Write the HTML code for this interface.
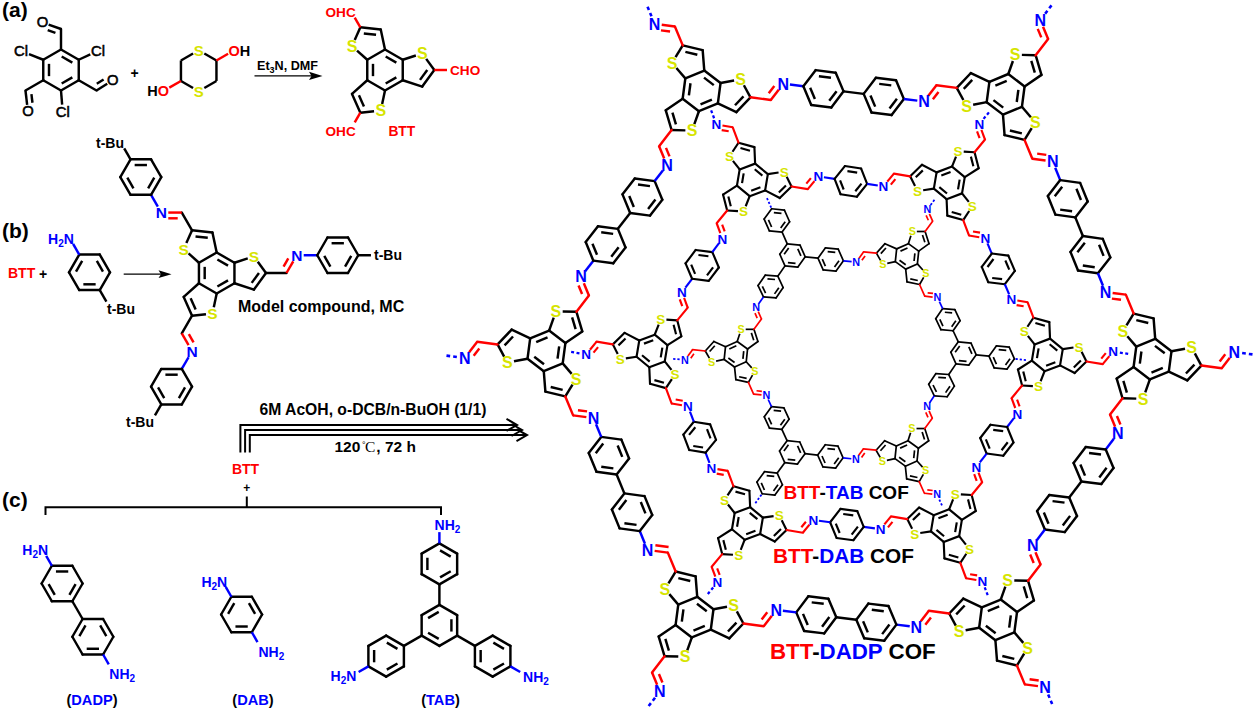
<!DOCTYPE html>
<html><head><meta charset="utf-8"><style>
html,body{margin:0;padding:0;background:#fff;width:1256px;height:709px;overflow:hidden}
svg{display:block}
</style></head><body>
<svg width="1256" height="709" viewBox="0 0 1256 709">
<rect width="1256" height="709" fill="#fff"/>
<text x="2" y="17.36" fill="#000" font-size="21" text-anchor="start" font-weight="bold" font-family="Liberation Sans">(a)</text>
<line x1="61" y1="49.5" x2="78.75" y2="59.75" stroke="#000" stroke-width="2.45" stroke-linecap="round"/>
<line x1="78.75" y1="59.75" x2="78.75" y2="80.25" stroke="#000" stroke-width="2.45" stroke-linecap="round"/>
<line x1="78.75" y1="80.25" x2="61" y2="90.5" stroke="#000" stroke-width="2.45" stroke-linecap="round"/>
<line x1="61" y1="90.5" x2="43.25" y2="80.25" stroke="#000" stroke-width="2.45" stroke-linecap="round"/>
<line x1="43.25" y1="80.25" x2="43.25" y2="59.75" stroke="#000" stroke-width="2.45" stroke-linecap="round"/>
<line x1="43.25" y1="59.75" x2="61" y2="49.5" stroke="#000" stroke-width="2.45" stroke-linecap="round"/>
<line x1="61.68" y1="56.52" x2="72.33" y2="62.67" stroke="#000" stroke-width="2.45" stroke-linecap="butt"/>
<line x1="72.33" y1="77.33" x2="61.68" y2="83.48" stroke="#000" stroke-width="2.45" stroke-linecap="butt"/>
<line x1="48.99" y1="76.15" x2="48.99" y2="63.85" stroke="#000" stroke-width="2.45" stroke-linecap="butt"/>
<line x1="61" y1="49.5" x2="61" y2="29" stroke="#000" stroke-width="2.45" stroke-linecap="round"/>
<line x1="61" y1="29" x2="48.62" y2="24.58" stroke="#000" stroke-width="2.45" stroke-linecap="butt"/>
<line x1="55.45" y1="32.86" x2="47.68" y2="30.09" stroke="#000" stroke-width="2.45" stroke-linecap="butt"/>
<text x="42.5" y="27.28" fill="#000" font-size="14.8" text-anchor="middle" font-weight="normal" font-family="Liberation Sans" stroke="#000" stroke-width="0.55">O</text>
<line x1="78.75" y1="59.75" x2="90.28" y2="54.45" stroke="#000" stroke-width="2.45" stroke-linecap="butt"/>
<text x="98" y="55.78" fill="#000" font-size="14.8" text-anchor="middle" font-weight="normal" font-family="Liberation Sans" stroke="#000" stroke-width="0.55">Cl</text>
<line x1="78.75" y1="80.25" x2="96.51" y2="90.5" stroke="#000" stroke-width="2.45" stroke-linecap="round"/>
<line x1="96.51" y1="90.5" x2="107.22" y2="83.69" stroke="#000" stroke-width="2.45" stroke-linecap="butt"/>
<line x1="96.79" y1="83.8" x2="103.59" y2="79.47" stroke="#000" stroke-width="2.45" stroke-linecap="butt"/>
<text x="112.7" y="85.08" fill="#000" font-size="14.8" text-anchor="middle" font-weight="normal" font-family="Liberation Sans" stroke="#000" stroke-width="0.55">O</text>
<line x1="61" y1="90.5" x2="62.14" y2="104.72" stroke="#000" stroke-width="2.45" stroke-linecap="butt"/>
<text x="62.7" y="116.58" fill="#000" font-size="14.8" text-anchor="middle" font-weight="normal" font-family="Liberation Sans" stroke="#000" stroke-width="0.55">Cl</text>
<line x1="43.25" y1="80.25" x2="25.49" y2="90.5" stroke="#000" stroke-width="2.45" stroke-linecap="round"/>
<line x1="25.49" y1="90.5" x2="27.15" y2="104.84" stroke="#000" stroke-width="2.45" stroke-linecap="butt"/>
<line x1="31.44" y1="94.03" x2="32.45" y2="102.76" stroke="#000" stroke-width="2.45" stroke-linecap="butt"/>
<text x="27.9" y="116.18" fill="#000" font-size="14.8" text-anchor="middle" font-weight="normal" font-family="Liberation Sans" stroke="#000" stroke-width="0.55">O</text>
<line x1="43.25" y1="59.75" x2="28.99" y2="54.05" stroke="#000" stroke-width="2.45" stroke-linecap="butt"/>
<text x="21.1" y="55.78" fill="#000" font-size="14.8" text-anchor="middle" font-weight="normal" font-family="Liberation Sans" stroke="#000" stroke-width="0.55">Cl</text>
<text x="134.5" y="77.54" fill="#000" font-size="14" text-anchor="middle" font-weight="bold" font-family="Liberation Sans">+</text>
<line x1="204.33" y1="53.45" x2="216.45" y2="60.45" stroke="#000" stroke-width="2.45" stroke-linecap="butt"/>
<line x1="216.45" y1="60.45" x2="216.45" y2="80.95" stroke="#000" stroke-width="2.45" stroke-linecap="butt"/>
<line x1="216.45" y1="80.95" x2="204.33" y2="87.95" stroke="#000" stroke-width="2.45" stroke-linecap="butt"/>
<line x1="193.07" y1="87.95" x2="180.95" y2="80.95" stroke="#000" stroke-width="2.45" stroke-linecap="butt"/>
<line x1="180.95" y1="80.95" x2="180.95" y2="60.45" stroke="#000" stroke-width="2.45" stroke-linecap="butt"/>
<line x1="180.95" y1="60.45" x2="193.07" y2="53.45" stroke="#000" stroke-width="2.45" stroke-linecap="butt"/>
<text x="198.7" y="55.6" fill="#d6e400" font-size="15" text-anchor="middle" font-weight="bold" font-family="Liberation Sans">S</text>
<text x="198.7" y="96.6" fill="#d6e400" font-size="15" text-anchor="middle" font-weight="bold" font-family="Liberation Sans">S</text>
<line x1="216.45" y1="60.45" x2="228.1" y2="53.73" stroke="#f00" stroke-width="2.45" stroke-linecap="butt"/>
<text x="228.43" y="55.95" fill="#000" font-size="14.5" text-anchor="start" font-weight="bold" font-family="Liberation Sans"><tspan fill="#f00">O</tspan>H</text>
<line x1="180.95" y1="80.95" x2="169.3" y2="87.67" stroke="#f00" stroke-width="2.45" stroke-linecap="butt"/>
<text x="168.97" y="95.89" fill="#000" font-size="14.5" text-anchor="end" font-weight="bold" font-family="Liberation Sans">H<tspan fill="#f00">O</tspan></text>
<line x1="254.5" y1="75.9" x2="312" y2="75.9" stroke="#000" stroke-width="1.3" stroke-linecap="butt"/>
<polygon points="322.5,75.9 309,71.8 311.5,75.9 309,80" fill="#000"/>
<text x="257" y="70.04" fill="#000" font-size="12.6" text-anchor="start" font-weight="bold" font-family="Liberation Sans">Et<tspan font-size="9" dy="3">3</tspan><tspan dy="-3">N, DMF</tspan></text>
<line x1="367.25" y1="59.75" x2="357.01" y2="50.54" stroke="#000" stroke-width="2.45" stroke-linecap="butt"/>
<line x1="354.75" y1="39.9" x2="360.35" y2="27.31" stroke="#000" stroke-width="2.45" stroke-linecap="butt"/>
<line x1="360.35" y1="27.31" x2="380.74" y2="29.45" stroke="#000" stroke-width="2.45" stroke-linecap="round"/>
<line x1="363.83" y1="33.45" x2="376.06" y2="34.73" stroke="#000" stroke-width="2.45" stroke-linecap="butt"/>
<line x1="380.74" y1="29.45" x2="385" y2="49.5" stroke="#000" stroke-width="2.45" stroke-linecap="round"/>
<text x="352.02" y="51.8" fill="#d6e400" font-size="16" text-anchor="middle" font-weight="bold" font-family="Liberation Sans">S</text>
<line x1="402.75" y1="59.75" x2="415.85" y2="55.49" stroke="#000" stroke-width="2.45" stroke-linecap="butt"/>
<line x1="426.19" y1="58.85" x2="434.29" y2="70" stroke="#000" stroke-width="2.45" stroke-linecap="butt"/>
<line x1="434.29" y1="70" x2="422.24" y2="86.59" stroke="#000" stroke-width="2.45" stroke-linecap="round"/>
<line x1="427.24" y1="69.94" x2="420.01" y2="79.89" stroke="#000" stroke-width="2.45" stroke-linecap="butt"/>
<line x1="422.24" y1="86.59" x2="402.75" y2="80.25" stroke="#000" stroke-width="2.45" stroke-linecap="round"/>
<text x="422.24" y="59.17" fill="#d6e400" font-size="16" text-anchor="middle" font-weight="bold" font-family="Liberation Sans">S</text>
<line x1="385" y1="90.5" x2="382.14" y2="103.97" stroke="#000" stroke-width="2.45" stroke-linecap="butt"/>
<line x1="374.06" y1="111.25" x2="360.35" y2="112.69" stroke="#000" stroke-width="2.45" stroke-linecap="butt"/>
<line x1="360.35" y1="112.69" x2="352.02" y2="93.96" stroke="#000" stroke-width="2.45" stroke-linecap="round"/>
<line x1="363.93" y1="106.61" x2="358.93" y2="95.37" stroke="#000" stroke-width="2.45" stroke-linecap="butt"/>
<line x1="352.02" y1="93.96" x2="367.25" y2="80.25" stroke="#000" stroke-width="2.45" stroke-linecap="round"/>
<text x="380.74" y="116.31" fill="#d6e400" font-size="16" text-anchor="middle" font-weight="bold" font-family="Liberation Sans">S</text>
<line x1="385" y1="49.5" x2="402.75" y2="59.75" stroke="#000" stroke-width="2.45" stroke-linecap="round"/>
<line x1="402.75" y1="59.75" x2="402.75" y2="80.25" stroke="#000" stroke-width="2.45" stroke-linecap="round"/>
<line x1="402.75" y1="80.25" x2="385" y2="90.5" stroke="#000" stroke-width="2.45" stroke-linecap="round"/>
<line x1="385" y1="90.5" x2="367.25" y2="80.25" stroke="#000" stroke-width="2.45" stroke-linecap="round"/>
<line x1="367.25" y1="80.25" x2="367.25" y2="59.75" stroke="#000" stroke-width="2.45" stroke-linecap="round"/>
<line x1="367.25" y1="59.75" x2="385" y2="49.5" stroke="#000" stroke-width="2.45" stroke-linecap="round"/>
<line x1="385.68" y1="56.52" x2="396.33" y2="62.67" stroke="#000" stroke-width="2.45" stroke-linecap="butt"/>
<line x1="396.33" y1="77.33" x2="385.68" y2="83.48" stroke="#000" stroke-width="2.45" stroke-linecap="butt"/>
<line x1="372.99" y1="76.15" x2="372.99" y2="63.85" stroke="#000" stroke-width="2.45" stroke-linecap="butt"/>
<line x1="360.35" y1="27.31" x2="354.72" y2="17.55" stroke="#f00" stroke-width="2.45" stroke-linecap="butt"/>
<text x="340.6" y="16.9" fill="#f00" font-size="13.6" text-anchor="middle" font-weight="bold" font-family="Liberation Sans">OHC</text>
<line x1="434.29" y1="70" x2="447" y2="70" stroke="#f00" stroke-width="2.45" stroke-linecap="butt"/>
<text x="450" y="75.4" fill="#f00" font-size="13.6" text-anchor="start" font-weight="bold" font-family="Liberation Sans">CHO</text>
<line x1="360.35" y1="112.69" x2="354.72" y2="122.45" stroke="#f00" stroke-width="2.45" stroke-linecap="butt"/>
<text x="340.6" y="136.3" fill="#f00" font-size="13.6" text-anchor="middle" font-weight="bold" font-family="Liberation Sans">OHC</text>
<text x="401.8" y="136.37" fill="#f00" font-size="13.8" text-anchor="middle" font-weight="bold" font-family="Liberation Sans">BTT</text>
<text x="2" y="238.36" fill="#000" font-size="21" text-anchor="start" font-weight="bold" font-family="Liberation Sans">(b)</text>
<text x="8" y="278.04" fill="#f00" font-size="14" text-anchor="start" font-weight="bold" font-family="Liberation Sans">BTT</text>
<text x="43" y="278.54" fill="#000" font-size="14" text-anchor="middle" font-weight="bold" font-family="Liberation Sans">+</text>
<line x1="110" y1="272.3" x2="99.75" y2="290.05" stroke="#000" stroke-width="2.45" stroke-linecap="round"/>
<line x1="99.75" y1="290.05" x2="79.25" y2="290.05" stroke="#000" stroke-width="2.45" stroke-linecap="round"/>
<line x1="79.25" y1="290.05" x2="69" y2="272.3" stroke="#000" stroke-width="2.45" stroke-linecap="round"/>
<line x1="69" y1="272.3" x2="79.25" y2="254.55" stroke="#000" stroke-width="2.45" stroke-linecap="round"/>
<line x1="79.25" y1="254.55" x2="99.75" y2="254.55" stroke="#000" stroke-width="2.45" stroke-linecap="round"/>
<line x1="99.75" y1="254.55" x2="110" y2="272.3" stroke="#000" stroke-width="2.45" stroke-linecap="round"/>
<line x1="95.65" y1="284.31" x2="83.35" y2="284.31" stroke="#000" stroke-width="2.45" stroke-linecap="butt"/>
<line x1="76.02" y1="271.62" x2="82.17" y2="260.97" stroke="#000" stroke-width="2.45" stroke-linecap="butt"/>
<line x1="96.83" y1="260.97" x2="102.98" y2="271.62" stroke="#000" stroke-width="2.45" stroke-linecap="butt"/>
<line x1="79.25" y1="254.55" x2="73.1" y2="243.89" stroke="#00f" stroke-width="2.45" stroke-linecap="butt"/>
<text x="61" y="243.54" fill="#00f" font-size="14" text-anchor="middle" font-weight="bold" font-family="Liberation Sans">H<tspan font-size="10" dy="3">2</tspan><tspan dy="-3">N</tspan></text>
<line x1="99.75" y1="290.05" x2="106.41" y2="301.59" stroke="#000" stroke-width="2.45" stroke-linecap="butt"/>
<text x="107" y="314.04" fill="#000" font-size="14" text-anchor="start" font-weight="bold" font-family="Liberation Sans">t-Bu</text>
<line x1="123.7" y1="274.2" x2="163" y2="274.2" stroke="#000" stroke-width="1.3" stroke-linecap="butt"/>
<polygon points="171.5,274.2 158.5,270.3 161,274.2 158.5,278.1" fill="#000"/>
<line x1="198.95" y1="262.75" x2="188.55" y2="253.4" stroke="#000" stroke-width="2.45" stroke-linecap="butt"/>
<line x1="186.36" y1="243.09" x2="192.05" y2="230.31" stroke="#000" stroke-width="2.45" stroke-linecap="butt"/>
<line x1="192.05" y1="230.31" x2="212.44" y2="232.45" stroke="#000" stroke-width="2.45" stroke-linecap="round"/>
<line x1="195.53" y1="236.45" x2="207.76" y2="237.73" stroke="#000" stroke-width="2.45" stroke-linecap="butt"/>
<line x1="212.44" y1="232.45" x2="216.7" y2="252.5" stroke="#000" stroke-width="2.45" stroke-linecap="round"/>
<text x="183.72" y="254.62" fill="#d6e400" font-size="15.5" text-anchor="middle" font-weight="bold" font-family="Liberation Sans">S</text>
<line x1="234.45" y1="262.75" x2="247.75" y2="258.43" stroke="#000" stroke-width="2.45" stroke-linecap="butt"/>
<line x1="257.77" y1="261.68" x2="265.99" y2="273" stroke="#000" stroke-width="2.45" stroke-linecap="butt"/>
<line x1="265.99" y1="273" x2="253.94" y2="289.59" stroke="#000" stroke-width="2.45" stroke-linecap="round"/>
<line x1="258.94" y1="272.94" x2="251.71" y2="282.89" stroke="#000" stroke-width="2.45" stroke-linecap="butt"/>
<line x1="253.94" y1="289.59" x2="234.45" y2="283.25" stroke="#000" stroke-width="2.45" stroke-linecap="round"/>
<text x="253.94" y="261.99" fill="#d6e400" font-size="15.5" text-anchor="middle" font-weight="bold" font-family="Liberation Sans">S</text>
<line x1="216.7" y1="293.5" x2="213.8" y2="307.18" stroke="#000" stroke-width="2.45" stroke-linecap="butt"/>
<line x1="205.97" y1="314.23" x2="192.05" y2="315.69" stroke="#000" stroke-width="2.45" stroke-linecap="butt"/>
<line x1="192.05" y1="315.69" x2="183.72" y2="296.96" stroke="#000" stroke-width="2.45" stroke-linecap="round"/>
<line x1="195.63" y1="309.61" x2="190.63" y2="298.37" stroke="#000" stroke-width="2.45" stroke-linecap="butt"/>
<line x1="183.72" y1="296.96" x2="198.95" y2="283.25" stroke="#000" stroke-width="2.45" stroke-linecap="round"/>
<text x="212.44" y="319.13" fill="#d6e400" font-size="15.5" text-anchor="middle" font-weight="bold" font-family="Liberation Sans">S</text>
<line x1="216.7" y1="252.5" x2="234.45" y2="262.75" stroke="#000" stroke-width="2.45" stroke-linecap="round"/>
<line x1="234.45" y1="262.75" x2="234.45" y2="283.25" stroke="#000" stroke-width="2.45" stroke-linecap="round"/>
<line x1="234.45" y1="283.25" x2="216.7" y2="293.5" stroke="#000" stroke-width="2.45" stroke-linecap="round"/>
<line x1="216.7" y1="293.5" x2="198.95" y2="283.25" stroke="#000" stroke-width="2.45" stroke-linecap="round"/>
<line x1="198.95" y1="283.25" x2="198.95" y2="262.75" stroke="#000" stroke-width="2.45" stroke-linecap="round"/>
<line x1="198.95" y1="262.75" x2="216.7" y2="252.5" stroke="#000" stroke-width="2.45" stroke-linecap="round"/>
<line x1="217.38" y1="259.52" x2="228.03" y2="265.67" stroke="#000" stroke-width="2.45" stroke-linecap="butt"/>
<line x1="228.03" y1="280.33" x2="217.38" y2="286.48" stroke="#000" stroke-width="2.45" stroke-linecap="butt"/>
<line x1="204.69" y1="279.15" x2="204.69" y2="266.85" stroke="#000" stroke-width="2.45" stroke-linecap="butt"/>
<line x1="192.05" y1="230.31" x2="181.8" y2="212.56" stroke="#000" stroke-width="2.45" stroke-linecap="round"/>
<line x1="181.8" y1="212.56" x2="168.28" y2="212.56" stroke="#f00" stroke-width="2.45" stroke-linecap="butt"/>
<line x1="177.7" y1="218.3" x2="168.28" y2="218.3" stroke="#f00" stroke-width="2.45" stroke-linecap="butt"/>
<text x="161.3" y="218.14" fill="#00f" font-size="15.5" text-anchor="middle" font-weight="bold" font-family="Liberation Sans">N</text>
<line x1="157.82" y1="206.52" x2="151.05" y2="194.8" stroke="#00f" stroke-width="2.45" stroke-linecap="butt"/>
<line x1="151.05" y1="194.8" x2="130.55" y2="194.8" stroke="#000" stroke-width="2.45" stroke-linecap="round"/>
<line x1="130.55" y1="194.8" x2="120.3" y2="177.05" stroke="#000" stroke-width="2.45" stroke-linecap="round"/>
<line x1="120.3" y1="177.05" x2="130.55" y2="159.3" stroke="#000" stroke-width="2.45" stroke-linecap="round"/>
<line x1="130.55" y1="159.3" x2="151.05" y2="159.3" stroke="#000" stroke-width="2.45" stroke-linecap="round"/>
<line x1="151.05" y1="159.3" x2="161.3" y2="177.05" stroke="#000" stroke-width="2.45" stroke-linecap="round"/>
<line x1="161.3" y1="177.05" x2="151.05" y2="194.8" stroke="#000" stroke-width="2.45" stroke-linecap="round"/>
<line x1="133.47" y1="188.38" x2="127.32" y2="177.73" stroke="#000" stroke-width="2.45" stroke-linecap="butt"/>
<line x1="134.65" y1="165.04" x2="146.95" y2="165.04" stroke="#000" stroke-width="2.45" stroke-linecap="butt"/>
<line x1="154.28" y1="177.73" x2="148.13" y2="188.38" stroke="#000" stroke-width="2.45" stroke-linecap="butt"/>
<line x1="130.55" y1="159.3" x2="124.2" y2="148.29" stroke="#000" stroke-width="2.45" stroke-linecap="butt"/>
<line x1="265.99" y1="273" x2="286.49" y2="273" stroke="#000" stroke-width="2.45" stroke-linecap="round"/>
<line x1="286.49" y1="273" x2="293.25" y2="261.29" stroke="#f00" stroke-width="2.45" stroke-linecap="butt"/>
<line x1="283.57" y1="266.58" x2="288.28" y2="258.42" stroke="#f00" stroke-width="2.45" stroke-linecap="butt"/>
<text x="296.74" y="260.83" fill="#00f" font-size="15.5" text-anchor="middle" font-weight="bold" font-family="Liberation Sans">N</text>
<line x1="303.72" y1="255.25" x2="317.24" y2="255.25" stroke="#00f" stroke-width="2.45" stroke-linecap="butt"/>
<line x1="317.24" y1="255.25" x2="327.49" y2="237.49" stroke="#000" stroke-width="2.45" stroke-linecap="round"/>
<line x1="327.49" y1="237.49" x2="347.99" y2="237.49" stroke="#000" stroke-width="2.45" stroke-linecap="round"/>
<line x1="347.99" y1="237.49" x2="358.24" y2="255.25" stroke="#000" stroke-width="2.45" stroke-linecap="round"/>
<line x1="358.24" y1="255.25" x2="347.99" y2="273" stroke="#000" stroke-width="2.45" stroke-linecap="round"/>
<line x1="347.99" y1="273" x2="327.49" y2="273" stroke="#000" stroke-width="2.45" stroke-linecap="round"/>
<line x1="327.49" y1="273" x2="317.24" y2="255.25" stroke="#000" stroke-width="2.45" stroke-linecap="round"/>
<line x1="331.59" y1="243.23" x2="343.89" y2="243.23" stroke="#000" stroke-width="2.45" stroke-linecap="butt"/>
<line x1="351.22" y1="255.93" x2="345.07" y2="266.58" stroke="#000" stroke-width="2.45" stroke-linecap="butt"/>
<line x1="330.41" y1="266.58" x2="324.26" y2="255.93" stroke="#000" stroke-width="2.45" stroke-linecap="butt"/>
<line x1="358.24" y1="255.25" x2="370.95" y2="255.25" stroke="#000" stroke-width="2.45" stroke-linecap="butt"/>
<line x1="192.05" y1="315.69" x2="181.8" y2="333.44" stroke="#000" stroke-width="2.45" stroke-linecap="round"/>
<line x1="181.8" y1="333.44" x2="188.57" y2="345.15" stroke="#f00" stroke-width="2.45" stroke-linecap="butt"/>
<line x1="188.82" y1="334.12" x2="193.54" y2="342.28" stroke="#f00" stroke-width="2.45" stroke-linecap="butt"/>
<text x="192.05" y="356.78" fill="#00f" font-size="15.5" text-anchor="middle" font-weight="bold" font-family="Liberation Sans">N</text>
<line x1="188.57" y1="357.24" x2="181.8" y2="368.95" stroke="#00f" stroke-width="2.45" stroke-linecap="butt"/>
<line x1="181.8" y1="368.95" x2="192.05" y2="386.7" stroke="#000" stroke-width="2.45" stroke-linecap="round"/>
<line x1="192.05" y1="386.7" x2="181.8" y2="404.46" stroke="#000" stroke-width="2.45" stroke-linecap="round"/>
<line x1="181.8" y1="404.46" x2="161.3" y2="404.46" stroke="#000" stroke-width="2.45" stroke-linecap="round"/>
<line x1="161.3" y1="404.46" x2="151.05" y2="386.7" stroke="#000" stroke-width="2.45" stroke-linecap="round"/>
<line x1="151.05" y1="386.7" x2="161.3" y2="368.95" stroke="#000" stroke-width="2.45" stroke-linecap="round"/>
<line x1="161.3" y1="368.95" x2="181.8" y2="368.95" stroke="#000" stroke-width="2.45" stroke-linecap="round"/>
<line x1="185.03" y1="387.38" x2="178.88" y2="398.04" stroke="#000" stroke-width="2.45" stroke-linecap="butt"/>
<line x1="164.22" y1="398.04" x2="158.07" y2="387.38" stroke="#000" stroke-width="2.45" stroke-linecap="butt"/>
<line x1="165.4" y1="374.69" x2="177.7" y2="374.69" stroke="#000" stroke-width="2.45" stroke-linecap="butt"/>
<line x1="161.3" y1="404.46" x2="154.95" y2="415.46" stroke="#000" stroke-width="2.45" stroke-linecap="butt"/>
<text x="96" y="147.54" fill="#000" font-size="14" text-anchor="start" font-weight="bold" font-family="Liberation Sans">t-Bu</text>
<text x="374" y="260.04" fill="#000" font-size="14" text-anchor="start" font-weight="bold" font-family="Liberation Sans">t-Bu</text>
<text x="126" y="427.04" fill="#000" font-size="14" text-anchor="start" font-weight="bold" font-family="Liberation Sans">t-Bu</text>
<text x="238" y="312.26" fill="#000" font-size="16" text-anchor="start" font-weight="bold" font-family="Liberation Sans">Model compound, MC</text>
<polyline points="240.4,452.5 240.4,424.9 516.5,424.9" fill="none" stroke="#000" stroke-width="2"/>
<polyline points="506.5,418.9 517,424.9 506.5,430.9" fill="none" stroke="#000" stroke-width="2"/>
<polyline points="245.1,452.5 245.1,430 521.5,430" fill="none" stroke="#000" stroke-width="2"/>
<polyline points="511.5,424 522,430 511.5,436" fill="none" stroke="#000" stroke-width="2"/>
<polyline points="249.8,452.5 249.8,435.1 526.5,435.1" fill="none" stroke="#000" stroke-width="2"/>
<polyline points="516.5,429.1 527,435.1 516.5,441.1" fill="none" stroke="#000" stroke-width="2"/>
<text x="259.5" y="414.85" fill="#000" font-size="15.7" text-anchor="start" font-weight="bold" font-family="Liberation Sans">6M AcOH, o-DCB/n-BuOH (1/1)</text>
<text x="334.5" y="452.28" fill="#000" font-size="15.5" text-anchor="start" font-weight="bold" font-family="Liberation Sans">120</text>
<text x="362" y="448.04" fill="#000" font-size="9" text-anchor="start" font-weight="normal" font-family="Liberation Sans">&#176;</text>
<text x="365" y="452.28" fill="#000" font-size="15.5" text-anchor="start" font-weight="normal" font-family="Liberation Serif">C</text>
<text x="376.3" y="452.28" fill="#000" font-size="15.5" text-anchor="start" font-weight="bold" font-family="Liberation Sans">, 72 h</text>
<text x="245.5" y="474.04" fill="#f00" font-size="14" text-anchor="middle" font-weight="bold" font-family="Liberation Sans">BTT</text>
<text x="246.8" y="491.82" fill="#000" font-size="12" text-anchor="middle" font-weight="bold" font-family="Liberation Sans">+</text>
<text x="2" y="507.06" fill="#000" font-size="21" text-anchor="start" font-weight="bold" font-family="Liberation Sans">(c)</text>
<polyline points="45.5,515 45.5,507.2 441,507.2 441,515" fill="none" stroke="#000" stroke-width="2"/>
<line x1="246.8" y1="496.5" x2="246.8" y2="507.2" stroke="#000" stroke-width="2" stroke-linecap="butt"/>
<line x1="82.6" y1="583.5" x2="72.35" y2="601.25" stroke="#000" stroke-width="2.45" stroke-linecap="round"/>
<line x1="72.35" y1="601.25" x2="51.85" y2="601.25" stroke="#000" stroke-width="2.45" stroke-linecap="round"/>
<line x1="51.85" y1="601.25" x2="41.6" y2="583.5" stroke="#000" stroke-width="2.45" stroke-linecap="round"/>
<line x1="41.6" y1="583.5" x2="51.85" y2="565.75" stroke="#000" stroke-width="2.45" stroke-linecap="round"/>
<line x1="51.85" y1="565.75" x2="72.35" y2="565.75" stroke="#000" stroke-width="2.45" stroke-linecap="round"/>
<line x1="72.35" y1="565.75" x2="82.6" y2="583.5" stroke="#000" stroke-width="2.45" stroke-linecap="round"/>
<line x1="75.58" y1="584.18" x2="69.43" y2="594.83" stroke="#000" stroke-width="2.45" stroke-linecap="butt"/>
<line x1="54.77" y1="594.83" x2="48.62" y2="584.18" stroke="#000" stroke-width="2.45" stroke-linecap="butt"/>
<line x1="55.95" y1="571.49" x2="68.25" y2="571.49" stroke="#000" stroke-width="2.45" stroke-linecap="butt"/>
<line x1="51.85" y1="565.75" x2="46.21" y2="555.98" stroke="#00f" stroke-width="2.45" stroke-linecap="butt"/>
<text x="35.2" y="555.04" fill="#00f" font-size="14" text-anchor="middle" font-weight="bold" font-family="Liberation Sans">H<tspan font-size="10" dy="3">2</tspan><tspan dy="-3">N</tspan></text>
<line x1="72.35" y1="601.25" x2="82.6" y2="619.01" stroke="#000" stroke-width="2.45" stroke-linecap="butt"/>
<line x1="113.35" y1="636.76" x2="103.1" y2="654.51" stroke="#000" stroke-width="2.45" stroke-linecap="round"/>
<line x1="103.1" y1="654.51" x2="82.6" y2="654.51" stroke="#000" stroke-width="2.45" stroke-linecap="round"/>
<line x1="82.6" y1="654.51" x2="72.35" y2="636.76" stroke="#000" stroke-width="2.45" stroke-linecap="round"/>
<line x1="72.35" y1="636.76" x2="82.6" y2="619.01" stroke="#000" stroke-width="2.45" stroke-linecap="round"/>
<line x1="82.6" y1="619.01" x2="103.1" y2="619.01" stroke="#000" stroke-width="2.45" stroke-linecap="round"/>
<line x1="103.1" y1="619.01" x2="113.35" y2="636.76" stroke="#000" stroke-width="2.45" stroke-linecap="round"/>
<line x1="99" y1="648.77" x2="86.7" y2="648.77" stroke="#000" stroke-width="2.45" stroke-linecap="butt"/>
<line x1="79.37" y1="636.08" x2="85.52" y2="625.43" stroke="#000" stroke-width="2.45" stroke-linecap="butt"/>
<line x1="100.18" y1="625.43" x2="106.33" y2="636.08" stroke="#000" stroke-width="2.45" stroke-linecap="butt"/>
<line x1="103.1" y1="654.51" x2="108.74" y2="664.28" stroke="#00f" stroke-width="2.45" stroke-linecap="butt"/>
<text x="122.2" y="679.04" fill="#00f" font-size="14" text-anchor="middle" font-weight="bold" font-family="Liberation Sans">NH<tspan font-size="10" dy="3">2</tspan></text>
<text x="92" y="704.86" fill="#000" font-size="14.6" text-anchor="middle" font-weight="bold" font-family="Liberation Sans">(<tspan fill="#00f">DADP</tspan>)</text>
<line x1="262.1" y1="614.5" x2="251.85" y2="632.25" stroke="#000" stroke-width="2.45" stroke-linecap="round"/>
<line x1="251.85" y1="632.25" x2="231.35" y2="632.25" stroke="#000" stroke-width="2.45" stroke-linecap="round"/>
<line x1="231.35" y1="632.25" x2="221.1" y2="614.5" stroke="#000" stroke-width="2.45" stroke-linecap="round"/>
<line x1="221.1" y1="614.5" x2="231.35" y2="596.75" stroke="#000" stroke-width="2.45" stroke-linecap="round"/>
<line x1="231.35" y1="596.75" x2="251.85" y2="596.75" stroke="#000" stroke-width="2.45" stroke-linecap="round"/>
<line x1="251.85" y1="596.75" x2="262.1" y2="614.5" stroke="#000" stroke-width="2.45" stroke-linecap="round"/>
<line x1="247.75" y1="626.51" x2="235.45" y2="626.51" stroke="#000" stroke-width="2.45" stroke-linecap="butt"/>
<line x1="228.12" y1="613.82" x2="234.27" y2="603.17" stroke="#000" stroke-width="2.45" stroke-linecap="butt"/>
<line x1="248.93" y1="603.17" x2="255.08" y2="613.82" stroke="#000" stroke-width="2.45" stroke-linecap="butt"/>
<line x1="231.35" y1="596.75" x2="225.71" y2="586.98" stroke="#00f" stroke-width="2.45" stroke-linecap="butt"/>
<text x="214.3" y="586.54" fill="#00f" font-size="14" text-anchor="middle" font-weight="bold" font-family="Liberation Sans">H<tspan font-size="10" dy="3">2</tspan><tspan dy="-3">N</tspan></text>
<line x1="251.85" y1="632.25" x2="257.49" y2="642.02" stroke="#00f" stroke-width="2.45" stroke-linecap="butt"/>
<text x="271.3" y="656.54" fill="#00f" font-size="14" text-anchor="middle" font-weight="bold" font-family="Liberation Sans">NH<tspan font-size="10" dy="3">2</tspan></text>
<text x="253" y="704.86" fill="#000" font-size="14.6" text-anchor="middle" font-weight="bold" font-family="Liberation Sans">(<tspan fill="#00f">DAB</tspan>)</text>
<line x1="439.4" y1="604.9" x2="457.15" y2="615.15" stroke="#000" stroke-width="2.45" stroke-linecap="round"/>
<line x1="457.15" y1="615.15" x2="457.15" y2="635.65" stroke="#000" stroke-width="2.45" stroke-linecap="round"/>
<line x1="457.15" y1="635.65" x2="439.4" y2="645.9" stroke="#000" stroke-width="2.45" stroke-linecap="round"/>
<line x1="439.4" y1="645.9" x2="421.65" y2="635.65" stroke="#000" stroke-width="2.45" stroke-linecap="round"/>
<line x1="421.65" y1="635.65" x2="421.65" y2="615.15" stroke="#000" stroke-width="2.45" stroke-linecap="round"/>
<line x1="421.65" y1="615.15" x2="439.4" y2="604.9" stroke="#000" stroke-width="2.45" stroke-linecap="round"/>
<line x1="451.41" y1="619.25" x2="451.41" y2="631.55" stroke="#000" stroke-width="2.45" stroke-linecap="butt"/>
<line x1="438.72" y1="638.88" x2="428.07" y2="632.73" stroke="#000" stroke-width="2.45" stroke-linecap="butt"/>
<line x1="428.07" y1="618.07" x2="438.72" y2="611.92" stroke="#000" stroke-width="2.45" stroke-linecap="butt"/>
<line x1="439.4" y1="604.9" x2="439.4" y2="584.4" stroke="#000" stroke-width="2.45" stroke-linecap="butt"/>
<line x1="439.4" y1="584.4" x2="421.65" y2="574.15" stroke="#000" stroke-width="2.45" stroke-linecap="round"/>
<line x1="421.65" y1="574.15" x2="421.65" y2="553.65" stroke="#000" stroke-width="2.45" stroke-linecap="round"/>
<line x1="421.65" y1="553.65" x2="439.4" y2="543.4" stroke="#000" stroke-width="2.45" stroke-linecap="round"/>
<line x1="439.4" y1="543.4" x2="457.15" y2="553.65" stroke="#000" stroke-width="2.45" stroke-linecap="round"/>
<line x1="457.15" y1="553.65" x2="457.15" y2="574.15" stroke="#000" stroke-width="2.45" stroke-linecap="round"/>
<line x1="457.15" y1="574.15" x2="439.4" y2="584.4" stroke="#000" stroke-width="2.45" stroke-linecap="round"/>
<line x1="427.39" y1="570.05" x2="427.39" y2="557.75" stroke="#000" stroke-width="2.45" stroke-linecap="butt"/>
<line x1="440.08" y1="550.42" x2="450.73" y2="556.57" stroke="#000" stroke-width="2.45" stroke-linecap="butt"/>
<line x1="450.73" y1="571.23" x2="440.08" y2="577.38" stroke="#000" stroke-width="2.45" stroke-linecap="butt"/>
<line x1="439.4" y1="543.4" x2="439.4" y2="532.12" stroke="#00f" stroke-width="2.45" stroke-linecap="butt"/>
<line x1="457.15" y1="635.65" x2="474.91" y2="645.9" stroke="#000" stroke-width="2.45" stroke-linecap="butt"/>
<line x1="474.91" y1="645.9" x2="492.66" y2="635.65" stroke="#000" stroke-width="2.45" stroke-linecap="round"/>
<line x1="492.66" y1="635.65" x2="510.41" y2="645.9" stroke="#000" stroke-width="2.45" stroke-linecap="round"/>
<line x1="510.41" y1="645.9" x2="510.41" y2="666.4" stroke="#000" stroke-width="2.45" stroke-linecap="round"/>
<line x1="510.41" y1="666.4" x2="492.66" y2="676.65" stroke="#000" stroke-width="2.45" stroke-linecap="round"/>
<line x1="492.66" y1="676.65" x2="474.91" y2="666.4" stroke="#000" stroke-width="2.45" stroke-linecap="round"/>
<line x1="474.91" y1="666.4" x2="474.91" y2="645.9" stroke="#000" stroke-width="2.45" stroke-linecap="round"/>
<line x1="493.34" y1="642.67" x2="503.99" y2="648.82" stroke="#000" stroke-width="2.45" stroke-linecap="butt"/>
<line x1="503.99" y1="663.48" x2="493.34" y2="669.63" stroke="#000" stroke-width="2.45" stroke-linecap="butt"/>
<line x1="480.65" y1="662.3" x2="480.65" y2="650" stroke="#000" stroke-width="2.45" stroke-linecap="butt"/>
<line x1="510.41" y1="666.4" x2="520.18" y2="672.04" stroke="#00f" stroke-width="2.45" stroke-linecap="butt"/>
<line x1="421.65" y1="635.65" x2="403.89" y2="645.9" stroke="#000" stroke-width="2.45" stroke-linecap="butt"/>
<line x1="403.89" y1="645.9" x2="403.89" y2="666.4" stroke="#000" stroke-width="2.45" stroke-linecap="round"/>
<line x1="403.89" y1="666.4" x2="386.14" y2="676.65" stroke="#000" stroke-width="2.45" stroke-linecap="round"/>
<line x1="386.14" y1="676.65" x2="368.39" y2="666.4" stroke="#000" stroke-width="2.45" stroke-linecap="round"/>
<line x1="368.39" y1="666.4" x2="368.39" y2="645.9" stroke="#000" stroke-width="2.45" stroke-linecap="round"/>
<line x1="368.39" y1="645.9" x2="386.14" y2="635.65" stroke="#000" stroke-width="2.45" stroke-linecap="round"/>
<line x1="386.14" y1="635.65" x2="403.89" y2="645.9" stroke="#000" stroke-width="2.45" stroke-linecap="round"/>
<line x1="397.47" y1="663.48" x2="386.82" y2="669.63" stroke="#000" stroke-width="2.45" stroke-linecap="butt"/>
<line x1="374.13" y1="662.3" x2="374.13" y2="650" stroke="#000" stroke-width="2.45" stroke-linecap="butt"/>
<line x1="386.82" y1="642.67" x2="397.47" y2="648.82" stroke="#000" stroke-width="2.45" stroke-linecap="butt"/>
<line x1="368.39" y1="666.4" x2="358.62" y2="672.04" stroke="#00f" stroke-width="2.45" stroke-linecap="butt"/>
<text x="447.5" y="530.04" fill="#00f" font-size="14" text-anchor="middle" font-weight="bold" font-family="Liberation Sans">NH<tspan font-size="10" dy="3">2</tspan></text>
<text x="343.5" y="680.54" fill="#00f" font-size="14" text-anchor="middle" font-weight="bold" font-family="Liberation Sans">H<tspan font-size="10" dy="3">2</tspan><tspan dy="-3">N</tspan></text>
<text x="536" y="681.54" fill="#00f" font-size="14" text-anchor="middle" font-weight="bold" font-family="Liberation Sans">NH<tspan font-size="10" dy="3">2</tspan></text>
<text x="440.5" y="705.06" fill="#000" font-size="14.6" text-anchor="middle" font-weight="bold" font-family="Liberation Sans">(<tspan fill="#00f">TAB</tspan>)</text>
<line x1="685.34" y1="78.42" x2="676.39" y2="67.95" stroke="#000" stroke-width="2.45" stroke-linecap="butt"/>
<line x1="675.54" y1="57.11" x2="682.74" y2="45.36" stroke="#000" stroke-width="2.45" stroke-linecap="butt"/>
<line x1="682.74" y1="45.36" x2="702.67" y2="50.15" stroke="#000" stroke-width="2.45" stroke-linecap="round"/>
<line x1="685.38" y1="51.9" x2="697.34" y2="54.77" stroke="#000" stroke-width="2.45" stroke-linecap="butt"/>
<line x1="702.67" y1="50.15" x2="704.28" y2="70.58" stroke="#000" stroke-width="2.45" stroke-linecap="round"/>
<text x="672.02" y="68.6" fill="#d6e400" font-size="16" text-anchor="middle" font-weight="bold" font-family="Liberation Sans">S</text>
<line x1="720.54" y1="83.05" x2="734.08" y2="80.54" stroke="#000" stroke-width="2.45" stroke-linecap="butt"/>
<line x1="743.89" y1="85.22" x2="750.47" y2="97.33" stroke="#000" stroke-width="2.45" stroke-linecap="butt"/>
<line x1="750.47" y1="97.33" x2="736.36" y2="112.2" stroke="#000" stroke-width="2.45" stroke-linecap="round"/>
<line x1="743.48" y1="96.36" x2="735.02" y2="105.28" stroke="#000" stroke-width="2.45" stroke-linecap="butt"/>
<line x1="736.36" y1="112.2" x2="717.86" y2="103.38" stroke="#000" stroke-width="2.45" stroke-linecap="round"/>
<text x="740.69" y="85.08" fill="#d6e400" font-size="16" text-anchor="middle" font-weight="bold" font-family="Liberation Sans">S</text>
<line x1="698.92" y1="111.22" x2="694.33" y2="124.21" stroke="#000" stroke-width="2.45" stroke-linecap="butt"/>
<line x1="685.37" y1="130.37" x2="671.59" y2="130.01" stroke="#000" stroke-width="2.45" stroke-linecap="butt"/>
<line x1="671.59" y1="130.01" x2="665.77" y2="110.35" stroke="#000" stroke-width="2.45" stroke-linecap="round"/>
<line x1="675.93" y1="124.44" x2="672.44" y2="112.65" stroke="#000" stroke-width="2.45" stroke-linecap="butt"/>
<line x1="665.77" y1="110.35" x2="682.66" y2="98.75" stroke="#000" stroke-width="2.45" stroke-linecap="round"/>
<text x="692.09" y="136.3" fill="#d6e400" font-size="16" text-anchor="middle" font-weight="bold" font-family="Liberation Sans">S</text>
<line x1="704.28" y1="70.58" x2="720.54" y2="83.05" stroke="#000" stroke-width="2.45" stroke-linecap="round"/>
<line x1="720.54" y1="83.05" x2="717.86" y2="103.38" stroke="#000" stroke-width="2.45" stroke-linecap="round"/>
<line x1="717.86" y1="103.38" x2="698.92" y2="111.22" stroke="#000" stroke-width="2.45" stroke-linecap="round"/>
<line x1="698.92" y1="111.22" x2="682.66" y2="98.75" stroke="#000" stroke-width="2.45" stroke-linecap="round"/>
<line x1="682.66" y1="98.75" x2="685.34" y2="78.42" stroke="#000" stroke-width="2.45" stroke-linecap="round"/>
<line x1="685.34" y1="78.42" x2="704.28" y2="70.58" stroke="#000" stroke-width="2.45" stroke-linecap="round"/>
<line x1="704.03" y1="77.63" x2="713.79" y2="85.11" stroke="#000" stroke-width="2.45" stroke-linecap="butt"/>
<line x1="711.88" y1="99.65" x2="700.52" y2="104.35" stroke="#000" stroke-width="2.45" stroke-linecap="butt"/>
<line x1="688.89" y1="95.43" x2="690.49" y2="83.23" stroke="#000" stroke-width="2.45" stroke-linecap="butt"/>
<line x1="682.74" y1="45.36" x2="674.89" y2="26.42" stroke="#f00" stroke-width="2.45" stroke-linecap="round"/>
<line x1="674.89" y1="26.42" x2="661.71" y2="24.68" stroke="#f00" stroke-width="2.45" stroke-linecap="butt"/>
<line x1="670.08" y1="31.58" x2="660.96" y2="30.38" stroke="#f00" stroke-width="2.45" stroke-linecap="butt"/>
<text x="654.57" y="29.5" fill="#00f" font-size="16" text-anchor="middle" font-weight="bold" font-family="Liberation Sans">N</text>
<line x1="651.51" y1="16.35" x2="647.43" y2="6.5" stroke="#00f" stroke-width="2.57" stroke-linecap="butt" stroke-dasharray="3.69,3.07"/>
<line x1="750.47" y1="97.33" x2="770.8" y2="100.01" stroke="#f00" stroke-width="2.45" stroke-linecap="round"/>
<line x1="770.8" y1="100.01" x2="778.89" y2="89.46" stroke="#f00" stroke-width="2.45" stroke-linecap="butt"/>
<line x1="768.74" y1="93.26" x2="774.34" y2="85.96" stroke="#f00" stroke-width="2.45" stroke-linecap="butt"/>
<text x="783.27" y="89.51" fill="#00f" font-size="16" text-anchor="middle" font-weight="bold" font-family="Liberation Sans">N</text>
<line x1="671.59" y1="130.01" x2="659.11" y2="146.27" stroke="#f00" stroke-width="2.45" stroke-linecap="round"/>
<line x1="659.11" y1="146.27" x2="664.2" y2="158.56" stroke="#f00" stroke-width="2.45" stroke-linecap="butt"/>
<line x1="665.99" y1="147.86" x2="669.51" y2="156.36" stroke="#f00" stroke-width="2.45" stroke-linecap="butt"/>
<text x="666.96" y="170.97" fill="#00f" font-size="16" text-anchor="middle" font-weight="bold" font-family="Liberation Sans">N</text>
<line x1="1008.32" y1="74" x2="1012.91" y2="61.02" stroke="#000" stroke-width="2.45" stroke-linecap="butt"/>
<line x1="1021.87" y1="54.86" x2="1035.65" y2="55.22" stroke="#000" stroke-width="2.45" stroke-linecap="butt"/>
<line x1="1035.65" y1="55.22" x2="1041.47" y2="74.88" stroke="#000" stroke-width="2.45" stroke-linecap="round"/>
<line x1="1031.31" y1="60.78" x2="1034.8" y2="72.57" stroke="#000" stroke-width="2.45" stroke-linecap="butt"/>
<line x1="1041.47" y1="74.88" x2="1024.58" y2="86.48" stroke="#000" stroke-width="2.45" stroke-linecap="round"/>
<text x="1015.16" y="60.44" fill="#d6e400" font-size="16" text-anchor="middle" font-weight="bold" font-family="Liberation Sans">S</text>
<line x1="1021.91" y1="106.8" x2="1030.85" y2="117.28" stroke="#000" stroke-width="2.45" stroke-linecap="butt"/>
<line x1="1031.71" y1="128.11" x2="1024.51" y2="139.87" stroke="#000" stroke-width="2.45" stroke-linecap="butt"/>
<line x1="1024.51" y1="139.87" x2="1004.57" y2="135.08" stroke="#000" stroke-width="2.45" stroke-linecap="round"/>
<line x1="1021.86" y1="133.33" x2="1009.9" y2="130.46" stroke="#000" stroke-width="2.45" stroke-linecap="butt"/>
<line x1="1004.57" y1="135.08" x2="1002.97" y2="114.65" stroke="#000" stroke-width="2.45" stroke-linecap="round"/>
<text x="1035.22" y="128.15" fill="#d6e400" font-size="16" text-anchor="middle" font-weight="bold" font-family="Liberation Sans">S</text>
<line x1="986.7" y1="102.17" x2="973.16" y2="104.68" stroke="#000" stroke-width="2.45" stroke-linecap="butt"/>
<line x1="963.35" y1="100" x2="956.77" y2="87.89" stroke="#000" stroke-width="2.45" stroke-linecap="butt"/>
<line x1="956.77" y1="87.89" x2="970.88" y2="73.02" stroke="#000" stroke-width="2.45" stroke-linecap="round"/>
<line x1="963.76" y1="88.87" x2="972.22" y2="79.95" stroke="#000" stroke-width="2.45" stroke-linecap="butt"/>
<line x1="970.88" y1="73.02" x2="989.38" y2="81.85" stroke="#000" stroke-width="2.45" stroke-linecap="round"/>
<text x="966.55" y="111.67" fill="#d6e400" font-size="16" text-anchor="middle" font-weight="bold" font-family="Liberation Sans">S</text>
<line x1="1024.58" y1="86.48" x2="1021.91" y2="106.8" stroke="#000" stroke-width="2.45" stroke-linecap="round"/>
<line x1="1021.91" y1="106.8" x2="1002.97" y2="114.65" stroke="#000" stroke-width="2.45" stroke-linecap="round"/>
<line x1="1002.97" y1="114.65" x2="986.7" y2="102.17" stroke="#000" stroke-width="2.45" stroke-linecap="round"/>
<line x1="986.7" y1="102.17" x2="989.38" y2="81.85" stroke="#000" stroke-width="2.45" stroke-linecap="round"/>
<line x1="989.38" y1="81.85" x2="1008.32" y2="74" stroke="#000" stroke-width="2.45" stroke-linecap="round"/>
<line x1="1008.32" y1="74" x2="1024.58" y2="86.48" stroke="#000" stroke-width="2.45" stroke-linecap="round"/>
<line x1="1018.36" y1="89.8" x2="1016.75" y2="101.99" stroke="#000" stroke-width="2.45" stroke-linecap="butt"/>
<line x1="1003.21" y1="107.6" x2="993.45" y2="100.11" stroke="#000" stroke-width="2.45" stroke-linecap="butt"/>
<line x1="995.36" y1="85.58" x2="1006.73" y2="80.87" stroke="#000" stroke-width="2.45" stroke-linecap="butt"/>
<line x1="1035.65" y1="55.22" x2="1048.13" y2="38.96" stroke="#f00" stroke-width="2.45" stroke-linecap="round"/>
<line x1="1048.13" y1="38.96" x2="1043.04" y2="26.67" stroke="#f00" stroke-width="2.45" stroke-linecap="butt"/>
<line x1="1041.26" y1="37.36" x2="1037.74" y2="28.86" stroke="#f00" stroke-width="2.45" stroke-linecap="butt"/>
<text x="1040.28" y="25.78" fill="#00f" font-size="16" text-anchor="middle" font-weight="bold" font-family="Liberation Sans">N</text>
<line x1="1045.15" y1="13.67" x2="1051.64" y2="5.21" stroke="#00f" stroke-width="2.57" stroke-linecap="butt" stroke-dasharray="3.69,3.07"/>
<line x1="1024.51" y1="139.87" x2="1032.35" y2="158.8" stroke="#f00" stroke-width="2.45" stroke-linecap="round"/>
<line x1="1032.35" y1="158.8" x2="1045.54" y2="160.54" stroke="#f00" stroke-width="2.45" stroke-linecap="butt"/>
<line x1="1037.16" y1="153.65" x2="1046.29" y2="154.85" stroke="#f00" stroke-width="2.45" stroke-linecap="butt"/>
<text x="1052.68" y="167.24" fill="#00f" font-size="16" text-anchor="middle" font-weight="bold" font-family="Liberation Sans">N</text>
<line x1="956.77" y1="87.89" x2="936.45" y2="85.22" stroke="#f00" stroke-width="2.45" stroke-linecap="round"/>
<line x1="936.45" y1="85.22" x2="928.35" y2="95.77" stroke="#f00" stroke-width="2.45" stroke-linecap="butt"/>
<line x1="938.5" y1="91.96" x2="932.9" y2="99.26" stroke="#f00" stroke-width="2.45" stroke-linecap="butt"/>
<text x="923.97" y="107.24" fill="#00f" font-size="16" text-anchor="middle" font-weight="bold" font-family="Liberation Sans">N</text>
<line x1="1136.27" y1="346.65" x2="1127.32" y2="336.18" stroke="#000" stroke-width="2.45" stroke-linecap="butt"/>
<line x1="1126.47" y1="325.34" x2="1133.67" y2="313.59" stroke="#000" stroke-width="2.45" stroke-linecap="butt"/>
<line x1="1133.67" y1="313.59" x2="1153.6" y2="318.38" stroke="#000" stroke-width="2.45" stroke-linecap="round"/>
<line x1="1136.31" y1="320.13" x2="1148.28" y2="323" stroke="#000" stroke-width="2.45" stroke-linecap="butt"/>
<line x1="1153.6" y1="318.38" x2="1155.21" y2="338.81" stroke="#000" stroke-width="2.45" stroke-linecap="round"/>
<text x="1122.96" y="336.83" fill="#d6e400" font-size="16" text-anchor="middle" font-weight="bold" font-family="Liberation Sans">S</text>
<line x1="1171.47" y1="351.29" x2="1185.01" y2="348.77" stroke="#000" stroke-width="2.45" stroke-linecap="butt"/>
<line x1="1194.83" y1="353.45" x2="1201.4" y2="365.57" stroke="#000" stroke-width="2.45" stroke-linecap="butt"/>
<line x1="1201.4" y1="365.57" x2="1187.29" y2="380.44" stroke="#000" stroke-width="2.45" stroke-linecap="round"/>
<line x1="1194.42" y1="364.59" x2="1185.95" y2="373.51" stroke="#000" stroke-width="2.45" stroke-linecap="butt"/>
<line x1="1187.29" y1="380.44" x2="1168.79" y2="371.61" stroke="#000" stroke-width="2.45" stroke-linecap="round"/>
<text x="1191.62" y="353.31" fill="#d6e400" font-size="16" text-anchor="middle" font-weight="bold" font-family="Liberation Sans">S</text>
<line x1="1149.86" y1="379.46" x2="1145.26" y2="392.44" stroke="#000" stroke-width="2.45" stroke-linecap="butt"/>
<line x1="1136.3" y1="398.6" x2="1122.52" y2="398.24" stroke="#000" stroke-width="2.45" stroke-linecap="butt"/>
<line x1="1122.52" y1="398.24" x2="1116.7" y2="378.58" stroke="#000" stroke-width="2.45" stroke-linecap="round"/>
<line x1="1126.86" y1="392.68" x2="1123.37" y2="380.88" stroke="#000" stroke-width="2.45" stroke-linecap="butt"/>
<line x1="1116.7" y1="378.58" x2="1133.59" y2="366.98" stroke="#000" stroke-width="2.45" stroke-linecap="round"/>
<text x="1143.02" y="404.53" fill="#d6e400" font-size="16" text-anchor="middle" font-weight="bold" font-family="Liberation Sans">S</text>
<line x1="1155.21" y1="338.81" x2="1171.47" y2="351.29" stroke="#000" stroke-width="2.45" stroke-linecap="round"/>
<line x1="1171.47" y1="351.29" x2="1168.79" y2="371.61" stroke="#000" stroke-width="2.45" stroke-linecap="round"/>
<line x1="1168.79" y1="371.61" x2="1149.86" y2="379.46" stroke="#000" stroke-width="2.45" stroke-linecap="round"/>
<line x1="1149.86" y1="379.46" x2="1133.59" y2="366.98" stroke="#000" stroke-width="2.45" stroke-linecap="round"/>
<line x1="1133.59" y1="366.98" x2="1136.27" y2="346.65" stroke="#000" stroke-width="2.45" stroke-linecap="round"/>
<line x1="1136.27" y1="346.65" x2="1155.21" y2="338.81" stroke="#000" stroke-width="2.45" stroke-linecap="round"/>
<line x1="1154.97" y1="345.86" x2="1164.72" y2="353.34" stroke="#000" stroke-width="2.45" stroke-linecap="butt"/>
<line x1="1162.81" y1="367.88" x2="1151.45" y2="372.58" stroke="#000" stroke-width="2.45" stroke-linecap="butt"/>
<line x1="1139.82" y1="363.66" x2="1141.42" y2="351.47" stroke="#000" stroke-width="2.45" stroke-linecap="butt"/>
<line x1="1133.67" y1="313.59" x2="1125.82" y2="294.65" stroke="#f00" stroke-width="2.45" stroke-linecap="round"/>
<line x1="1125.82" y1="294.65" x2="1112.64" y2="292.92" stroke="#f00" stroke-width="2.45" stroke-linecap="butt"/>
<line x1="1121.01" y1="299.81" x2="1111.89" y2="298.61" stroke="#f00" stroke-width="2.45" stroke-linecap="butt"/>
<text x="1105.5" y="297.74" fill="#00f" font-size="16" text-anchor="middle" font-weight="bold" font-family="Liberation Sans">N</text>
<line x1="1201.4" y1="365.57" x2="1221.73" y2="368.24" stroke="#f00" stroke-width="2.45" stroke-linecap="round"/>
<line x1="1221.73" y1="368.24" x2="1229.82" y2="357.69" stroke="#f00" stroke-width="2.45" stroke-linecap="butt"/>
<line x1="1219.67" y1="361.49" x2="1225.27" y2="354.2" stroke="#f00" stroke-width="2.45" stroke-linecap="butt"/>
<text x="1234.21" y="357.74" fill="#00f" font-size="16" text-anchor="middle" font-weight="bold" font-family="Liberation Sans">N</text>
<line x1="1242.14" y1="353.02" x2="1252.71" y2="354.41" stroke="#00f" stroke-width="2.57" stroke-linecap="butt" stroke-dasharray="3.69,3.07"/>
<line x1="1122.52" y1="398.24" x2="1110.04" y2="414.5" stroke="#f00" stroke-width="2.45" stroke-linecap="round"/>
<line x1="1110.04" y1="414.5" x2="1115.13" y2="426.79" stroke="#f00" stroke-width="2.45" stroke-linecap="butt"/>
<line x1="1116.92" y1="416.09" x2="1120.44" y2="424.59" stroke="#f00" stroke-width="2.45" stroke-linecap="butt"/>
<text x="1117.89" y="439.2" fill="#00f" font-size="16" text-anchor="middle" font-weight="bold" font-family="Liberation Sans">N</text>
<line x1="1000.75" y1="599.59" x2="1005.35" y2="586.61" stroke="#000" stroke-width="2.45" stroke-linecap="butt"/>
<line x1="1014.31" y1="580.45" x2="1028.08" y2="580.81" stroke="#000" stroke-width="2.45" stroke-linecap="butt"/>
<line x1="1028.08" y1="580.81" x2="1033.91" y2="600.46" stroke="#000" stroke-width="2.45" stroke-linecap="round"/>
<line x1="1023.75" y1="586.37" x2="1027.24" y2="598.16" stroke="#000" stroke-width="2.45" stroke-linecap="butt"/>
<line x1="1033.91" y1="600.46" x2="1017.02" y2="612.07" stroke="#000" stroke-width="2.45" stroke-linecap="round"/>
<text x="1007.59" y="586.03" fill="#d6e400" font-size="16" text-anchor="middle" font-weight="bold" font-family="Liberation Sans">S</text>
<line x1="1014.34" y1="632.39" x2="1023.29" y2="642.86" stroke="#000" stroke-width="2.45" stroke-linecap="butt"/>
<line x1="1024.14" y1="653.7" x2="1016.94" y2="665.45" stroke="#000" stroke-width="2.45" stroke-linecap="butt"/>
<line x1="1016.94" y1="665.45" x2="997.01" y2="660.67" stroke="#000" stroke-width="2.45" stroke-linecap="round"/>
<line x1="1014.29" y1="658.91" x2="1002.33" y2="656.04" stroke="#000" stroke-width="2.45" stroke-linecap="butt"/>
<line x1="997.01" y1="660.67" x2="995.4" y2="640.24" stroke="#000" stroke-width="2.45" stroke-linecap="round"/>
<text x="1027.65" y="653.73" fill="#d6e400" font-size="16" text-anchor="middle" font-weight="bold" font-family="Liberation Sans">S</text>
<line x1="979.14" y1="627.76" x2="965.6" y2="630.27" stroke="#000" stroke-width="2.45" stroke-linecap="butt"/>
<line x1="955.78" y1="625.59" x2="949.21" y2="613.48" stroke="#000" stroke-width="2.45" stroke-linecap="butt"/>
<line x1="949.21" y1="613.48" x2="963.32" y2="598.61" stroke="#000" stroke-width="2.45" stroke-linecap="round"/>
<line x1="956.19" y1="614.46" x2="964.66" y2="605.53" stroke="#000" stroke-width="2.45" stroke-linecap="butt"/>
<line x1="963.32" y1="598.61" x2="981.81" y2="607.43" stroke="#000" stroke-width="2.45" stroke-linecap="round"/>
<text x="958.99" y="637.26" fill="#d6e400" font-size="16" text-anchor="middle" font-weight="bold" font-family="Liberation Sans">S</text>
<line x1="1017.02" y1="612.07" x2="1014.34" y2="632.39" stroke="#000" stroke-width="2.45" stroke-linecap="round"/>
<line x1="1014.34" y1="632.39" x2="995.4" y2="640.24" stroke="#000" stroke-width="2.45" stroke-linecap="round"/>
<line x1="995.4" y1="640.24" x2="979.14" y2="627.76" stroke="#000" stroke-width="2.45" stroke-linecap="round"/>
<line x1="979.14" y1="627.76" x2="981.81" y2="607.43" stroke="#000" stroke-width="2.45" stroke-linecap="round"/>
<line x1="981.81" y1="607.43" x2="1000.75" y2="599.59" stroke="#000" stroke-width="2.45" stroke-linecap="round"/>
<line x1="1000.75" y1="599.59" x2="1017.02" y2="612.07" stroke="#000" stroke-width="2.45" stroke-linecap="round"/>
<line x1="1010.79" y1="615.38" x2="1009.19" y2="627.58" stroke="#000" stroke-width="2.45" stroke-linecap="butt"/>
<line x1="995.64" y1="633.19" x2="985.89" y2="625.7" stroke="#000" stroke-width="2.45" stroke-linecap="butt"/>
<line x1="987.8" y1="611.17" x2="999.16" y2="606.46" stroke="#000" stroke-width="2.45" stroke-linecap="butt"/>
<line x1="1028.08" y1="580.81" x2="1040.56" y2="564.54" stroke="#f00" stroke-width="2.45" stroke-linecap="round"/>
<line x1="1040.56" y1="564.54" x2="1035.47" y2="552.26" stroke="#f00" stroke-width="2.45" stroke-linecap="butt"/>
<line x1="1033.69" y1="562.95" x2="1030.17" y2="554.45" stroke="#f00" stroke-width="2.45" stroke-linecap="butt"/>
<text x="1032.72" y="551.36" fill="#00f" font-size="16" text-anchor="middle" font-weight="bold" font-family="Liberation Sans">N</text>
<line x1="1016.94" y1="665.45" x2="1024.79" y2="684.39" stroke="#f00" stroke-width="2.45" stroke-linecap="round"/>
<line x1="1024.79" y1="684.39" x2="1037.97" y2="686.13" stroke="#f00" stroke-width="2.45" stroke-linecap="butt"/>
<line x1="1029.6" y1="679.24" x2="1038.72" y2="680.44" stroke="#f00" stroke-width="2.45" stroke-linecap="butt"/>
<text x="1045.11" y="692.83" fill="#00f" font-size="16" text-anchor="middle" font-weight="bold" font-family="Liberation Sans">N</text>
<line x1="1048.17" y1="694.46" x2="1052.25" y2="704.31" stroke="#00f" stroke-width="2.57" stroke-linecap="butt" stroke-dasharray="3.69,3.07"/>
<line x1="949.21" y1="613.48" x2="928.88" y2="610.8" stroke="#f00" stroke-width="2.45" stroke-linecap="round"/>
<line x1="928.88" y1="610.8" x2="920.79" y2="621.35" stroke="#f00" stroke-width="2.45" stroke-linecap="butt"/>
<line x1="930.94" y1="617.55" x2="925.34" y2="624.85" stroke="#f00" stroke-width="2.45" stroke-linecap="butt"/>
<text x="916.4" y="632.83" fill="#00f" font-size="16" text-anchor="middle" font-weight="bold" font-family="Liberation Sans">N</text>
<line x1="678.27" y1="604.61" x2="669.33" y2="594.14" stroke="#000" stroke-width="2.45" stroke-linecap="butt"/>
<line x1="668.47" y1="583.3" x2="675.67" y2="571.55" stroke="#000" stroke-width="2.45" stroke-linecap="butt"/>
<line x1="675.67" y1="571.55" x2="695.61" y2="576.33" stroke="#000" stroke-width="2.45" stroke-linecap="round"/>
<line x1="678.32" y1="578.09" x2="690.28" y2="580.96" stroke="#000" stroke-width="2.45" stroke-linecap="butt"/>
<line x1="695.61" y1="576.33" x2="697.21" y2="596.76" stroke="#000" stroke-width="2.45" stroke-linecap="round"/>
<text x="664.96" y="594.79" fill="#d6e400" font-size="16" text-anchor="middle" font-weight="bold" font-family="Liberation Sans">S</text>
<line x1="713.47" y1="609.24" x2="727.02" y2="606.73" stroke="#000" stroke-width="2.45" stroke-linecap="butt"/>
<line x1="736.83" y1="611.41" x2="743.41" y2="623.52" stroke="#000" stroke-width="2.45" stroke-linecap="butt"/>
<line x1="743.41" y1="623.52" x2="729.29" y2="638.39" stroke="#000" stroke-width="2.45" stroke-linecap="round"/>
<line x1="736.42" y1="622.54" x2="727.95" y2="631.47" stroke="#000" stroke-width="2.45" stroke-linecap="butt"/>
<line x1="729.29" y1="638.39" x2="710.8" y2="629.57" stroke="#000" stroke-width="2.45" stroke-linecap="round"/>
<text x="733.62" y="611.26" fill="#d6e400" font-size="16" text-anchor="middle" font-weight="bold" font-family="Liberation Sans">S</text>
<line x1="691.86" y1="637.41" x2="687.26" y2="650.4" stroke="#000" stroke-width="2.45" stroke-linecap="butt"/>
<line x1="678.3" y1="656.55" x2="664.53" y2="656.19" stroke="#000" stroke-width="2.45" stroke-linecap="butt"/>
<line x1="664.53" y1="656.19" x2="658.71" y2="636.54" stroke="#000" stroke-width="2.45" stroke-linecap="round"/>
<line x1="668.87" y1="650.63" x2="665.37" y2="638.84" stroke="#000" stroke-width="2.45" stroke-linecap="butt"/>
<line x1="658.71" y1="636.54" x2="675.6" y2="624.93" stroke="#000" stroke-width="2.45" stroke-linecap="round"/>
<text x="685.02" y="662.49" fill="#d6e400" font-size="16" text-anchor="middle" font-weight="bold" font-family="Liberation Sans">S</text>
<line x1="697.21" y1="596.76" x2="713.47" y2="609.24" stroke="#000" stroke-width="2.45" stroke-linecap="round"/>
<line x1="713.47" y1="609.24" x2="710.8" y2="629.57" stroke="#000" stroke-width="2.45" stroke-linecap="round"/>
<line x1="710.8" y1="629.57" x2="691.86" y2="637.41" stroke="#000" stroke-width="2.45" stroke-linecap="round"/>
<line x1="691.86" y1="637.41" x2="675.6" y2="624.93" stroke="#000" stroke-width="2.45" stroke-linecap="round"/>
<line x1="675.6" y1="624.93" x2="678.27" y2="604.61" stroke="#000" stroke-width="2.45" stroke-linecap="round"/>
<line x1="678.27" y1="604.61" x2="697.21" y2="596.76" stroke="#000" stroke-width="2.45" stroke-linecap="round"/>
<line x1="696.97" y1="603.81" x2="706.73" y2="611.3" stroke="#000" stroke-width="2.45" stroke-linecap="butt"/>
<line x1="704.81" y1="625.83" x2="693.45" y2="630.54" stroke="#000" stroke-width="2.45" stroke-linecap="butt"/>
<line x1="681.82" y1="621.62" x2="683.43" y2="609.42" stroke="#000" stroke-width="2.45" stroke-linecap="butt"/>
<line x1="675.67" y1="571.55" x2="667.83" y2="552.61" stroke="#f00" stroke-width="2.45" stroke-linecap="round"/>
<line x1="667.83" y1="552.61" x2="654.64" y2="550.87" stroke="#f00" stroke-width="2.45" stroke-linecap="butt"/>
<line x1="668.58" y1="546.92" x2="655.39" y2="545.18" stroke="#f00" stroke-width="2.45" stroke-linecap="butt"/>
<text x="647.5" y="555.69" fill="#00f" font-size="16" text-anchor="middle" font-weight="bold" font-family="Liberation Sans">N</text>
<line x1="743.41" y1="623.52" x2="763.73" y2="626.2" stroke="#f00" stroke-width="2.45" stroke-linecap="round"/>
<line x1="763.73" y1="626.2" x2="771.83" y2="615.65" stroke="#f00" stroke-width="2.45" stroke-linecap="butt"/>
<line x1="761.67" y1="619.45" x2="767.27" y2="612.15" stroke="#f00" stroke-width="2.45" stroke-linecap="butt"/>
<text x="776.21" y="615.69" fill="#00f" font-size="16" text-anchor="middle" font-weight="bold" font-family="Liberation Sans">N</text>
<line x1="664.53" y1="656.19" x2="652.05" y2="672.46" stroke="#f00" stroke-width="2.45" stroke-linecap="round"/>
<line x1="652.05" y1="672.46" x2="657.14" y2="684.75" stroke="#f00" stroke-width="2.45" stroke-linecap="butt"/>
<line x1="658.92" y1="674.05" x2="662.44" y2="682.55" stroke="#f00" stroke-width="2.45" stroke-linecap="butt"/>
<text x="659.89" y="697.16" fill="#00f" font-size="16" text-anchor="middle" font-weight="bold" font-family="Liberation Sans">N</text>
<line x1="655.02" y1="697.74" x2="648.53" y2="706.2" stroke="#00f" stroke-width="2.57" stroke-linecap="butt" stroke-dasharray="3.69,3.07"/>
<line x1="549.12" y1="330.56" x2="553.72" y2="317.57" stroke="#000" stroke-width="2.45" stroke-linecap="butt"/>
<line x1="562.68" y1="311.41" x2="576.45" y2="311.78" stroke="#000" stroke-width="2.45" stroke-linecap="butt"/>
<line x1="576.45" y1="311.78" x2="582.28" y2="331.43" stroke="#000" stroke-width="2.45" stroke-linecap="round"/>
<line x1="572.11" y1="317.34" x2="575.61" y2="329.13" stroke="#000" stroke-width="2.45" stroke-linecap="butt"/>
<line x1="582.28" y1="331.43" x2="565.39" y2="343.04" stroke="#000" stroke-width="2.45" stroke-linecap="round"/>
<text x="555.96" y="317" fill="#d6e400" font-size="16" text-anchor="middle" font-weight="bold" font-family="Liberation Sans">S</text>
<line x1="562.71" y1="363.36" x2="571.66" y2="373.83" stroke="#000" stroke-width="2.45" stroke-linecap="butt"/>
<line x1="572.51" y1="384.67" x2="565.31" y2="396.42" stroke="#000" stroke-width="2.45" stroke-linecap="butt"/>
<line x1="565.31" y1="396.42" x2="545.38" y2="391.64" stroke="#000" stroke-width="2.45" stroke-linecap="round"/>
<line x1="562.66" y1="389.88" x2="550.7" y2="387.01" stroke="#000" stroke-width="2.45" stroke-linecap="butt"/>
<line x1="545.38" y1="391.64" x2="543.77" y2="371.21" stroke="#000" stroke-width="2.45" stroke-linecap="round"/>
<text x="576.02" y="384.7" fill="#d6e400" font-size="16" text-anchor="middle" font-weight="bold" font-family="Liberation Sans">S</text>
<line x1="527.51" y1="358.73" x2="513.97" y2="361.24" stroke="#000" stroke-width="2.45" stroke-linecap="butt"/>
<line x1="504.15" y1="356.56" x2="497.58" y2="344.45" stroke="#000" stroke-width="2.45" stroke-linecap="butt"/>
<line x1="497.58" y1="344.45" x2="511.69" y2="329.58" stroke="#000" stroke-width="2.45" stroke-linecap="round"/>
<line x1="504.56" y1="345.42" x2="513.03" y2="336.5" stroke="#000" stroke-width="2.45" stroke-linecap="butt"/>
<line x1="511.69" y1="329.58" x2="530.18" y2="338.4" stroke="#000" stroke-width="2.45" stroke-linecap="round"/>
<text x="507.36" y="368.22" fill="#d6e400" font-size="16" text-anchor="middle" font-weight="bold" font-family="Liberation Sans">S</text>
<line x1="565.39" y1="343.04" x2="562.71" y2="363.36" stroke="#000" stroke-width="2.45" stroke-linecap="round"/>
<line x1="562.71" y1="363.36" x2="543.77" y2="371.21" stroke="#000" stroke-width="2.45" stroke-linecap="round"/>
<line x1="543.77" y1="371.21" x2="527.51" y2="358.73" stroke="#000" stroke-width="2.45" stroke-linecap="round"/>
<line x1="527.51" y1="358.73" x2="530.18" y2="338.4" stroke="#000" stroke-width="2.45" stroke-linecap="round"/>
<line x1="530.18" y1="338.4" x2="549.12" y2="330.56" stroke="#000" stroke-width="2.45" stroke-linecap="round"/>
<line x1="549.12" y1="330.56" x2="565.39" y2="343.04" stroke="#000" stroke-width="2.45" stroke-linecap="round"/>
<line x1="559.16" y1="346.35" x2="557.55" y2="358.55" stroke="#000" stroke-width="2.45" stroke-linecap="butt"/>
<line x1="544.01" y1="364.16" x2="534.25" y2="356.67" stroke="#000" stroke-width="2.45" stroke-linecap="butt"/>
<line x1="536.17" y1="342.14" x2="547.53" y2="337.43" stroke="#000" stroke-width="2.45" stroke-linecap="butt"/>
<line x1="576.45" y1="311.78" x2="588.93" y2="295.51" stroke="#f00" stroke-width="2.45" stroke-linecap="round"/>
<line x1="588.93" y1="295.51" x2="583.84" y2="283.22" stroke="#f00" stroke-width="2.45" stroke-linecap="butt"/>
<line x1="582.06" y1="293.92" x2="578.54" y2="285.42" stroke="#f00" stroke-width="2.45" stroke-linecap="butt"/>
<text x="581.09" y="282.33" fill="#00f" font-size="16" text-anchor="middle" font-weight="bold" font-family="Liberation Sans">N</text>
<line x1="565.31" y1="396.42" x2="573.15" y2="415.36" stroke="#f00" stroke-width="2.45" stroke-linecap="round"/>
<line x1="573.15" y1="415.36" x2="586.34" y2="417.1" stroke="#f00" stroke-width="2.45" stroke-linecap="butt"/>
<line x1="577.97" y1="410.21" x2="587.09" y2="411.41" stroke="#f00" stroke-width="2.45" stroke-linecap="butt"/>
<text x="593.48" y="423.8" fill="#00f" font-size="16" text-anchor="middle" font-weight="bold" font-family="Liberation Sans">N</text>
<line x1="497.58" y1="344.45" x2="477.25" y2="341.77" stroke="#f00" stroke-width="2.45" stroke-linecap="round"/>
<line x1="477.25" y1="341.77" x2="469.15" y2="352.32" stroke="#f00" stroke-width="2.45" stroke-linecap="butt"/>
<line x1="479.31" y1="348.52" x2="473.71" y2="355.82" stroke="#f00" stroke-width="2.45" stroke-linecap="butt"/>
<text x="464.77" y="363.8" fill="#00f" font-size="16" text-anchor="middle" font-weight="bold" font-family="Liberation Sans">N</text>
<line x1="456.84" y1="356.99" x2="446.27" y2="355.6" stroke="#00f" stroke-width="2.57" stroke-linecap="butt" stroke-dasharray="3.69,3.07"/>
<line x1="789.94" y1="84.59" x2="803.37" y2="86.28" stroke="#00f" stroke-width="2.45" stroke-linecap="butt"/>
<line x1="803.37" y1="86.28" x2="815.62" y2="70.14" stroke="#000" stroke-width="2.45" stroke-linecap="round"/>
<line x1="815.62" y1="70.14" x2="835.72" y2="72.67" stroke="#000" stroke-width="2.45" stroke-linecap="round"/>
<line x1="835.72" y1="72.67" x2="843.57" y2="91.35" stroke="#000" stroke-width="2.45" stroke-linecap="round"/>
<line x1="843.57" y1="91.35" x2="831.33" y2="107.49" stroke="#000" stroke-width="2.45" stroke-linecap="round"/>
<line x1="831.33" y1="107.49" x2="811.23" y2="104.95" stroke="#000" stroke-width="2.45" stroke-linecap="round"/>
<line x1="811.23" y1="104.95" x2="803.37" y2="86.28" stroke="#000" stroke-width="2.45" stroke-linecap="round"/>
<line x1="818.93" y1="76.27" x2="830.99" y2="77.79" stroke="#000" stroke-width="2.45" stroke-linecap="butt"/>
<line x1="836.6" y1="91.15" x2="829.26" y2="100.83" stroke="#000" stroke-width="2.45" stroke-linecap="butt"/>
<line x1="814.89" y1="99.02" x2="810.17" y2="87.81" stroke="#000" stroke-width="2.45" stroke-linecap="butt"/>
<line x1="843.57" y1="91.35" x2="863.67" y2="93.88" stroke="#000" stroke-width="2.45" stroke-linecap="butt"/>
<line x1="863.67" y1="93.88" x2="875.91" y2="77.74" stroke="#000" stroke-width="2.45" stroke-linecap="round"/>
<line x1="875.91" y1="77.74" x2="896.01" y2="80.27" stroke="#000" stroke-width="2.45" stroke-linecap="round"/>
<line x1="896.01" y1="80.27" x2="903.87" y2="98.95" stroke="#000" stroke-width="2.45" stroke-linecap="round"/>
<line x1="903.87" y1="98.95" x2="891.63" y2="115.09" stroke="#000" stroke-width="2.45" stroke-linecap="round"/>
<line x1="891.63" y1="115.09" x2="871.53" y2="112.55" stroke="#000" stroke-width="2.45" stroke-linecap="round"/>
<line x1="871.53" y1="112.55" x2="863.67" y2="93.88" stroke="#000" stroke-width="2.45" stroke-linecap="round"/>
<line x1="879.22" y1="83.87" x2="891.28" y2="85.39" stroke="#000" stroke-width="2.45" stroke-linecap="butt"/>
<line x1="896.9" y1="98.75" x2="889.55" y2="108.43" stroke="#000" stroke-width="2.45" stroke-linecap="butt"/>
<line x1="875.18" y1="106.62" x2="870.47" y2="95.41" stroke="#000" stroke-width="2.45" stroke-linecap="butt"/>
<line x1="903.87" y1="98.95" x2="917.3" y2="100.64" stroke="#00f" stroke-width="2.45" stroke-linecap="butt"/>
<line x1="1055.2" y1="167.71" x2="1060.22" y2="180.12" stroke="#00f" stroke-width="2.45" stroke-linecap="butt"/>
<line x1="1060.22" y1="180.12" x2="1080.14" y2="182.91" stroke="#000" stroke-width="2.45" stroke-linecap="round"/>
<line x1="1080.14" y1="182.91" x2="1087.69" y2="201.55" stroke="#000" stroke-width="2.45" stroke-linecap="round"/>
<line x1="1087.69" y1="201.55" x2="1075.31" y2="217.41" stroke="#000" stroke-width="2.45" stroke-linecap="round"/>
<line x1="1075.31" y1="217.41" x2="1055.4" y2="214.62" stroke="#000" stroke-width="2.45" stroke-linecap="round"/>
<line x1="1055.4" y1="214.62" x2="1047.85" y2="195.98" stroke="#000" stroke-width="2.45" stroke-linecap="round"/>
<line x1="1047.85" y1="195.98" x2="1060.22" y2="180.12" stroke="#000" stroke-width="2.45" stroke-linecap="round"/>
<line x1="1076.43" y1="188.75" x2="1080.96" y2="199.94" stroke="#000" stroke-width="2.45" stroke-linecap="butt"/>
<line x1="1072.11" y1="211.27" x2="1060.16" y2="209.6" stroke="#000" stroke-width="2.45" stroke-linecap="butt"/>
<line x1="1054.76" y1="196.27" x2="1062.19" y2="186.76" stroke="#000" stroke-width="2.45" stroke-linecap="butt"/>
<line x1="1075.31" y1="217.41" x2="1082.86" y2="236.05" stroke="#000" stroke-width="2.45" stroke-linecap="butt"/>
<line x1="1082.86" y1="236.05" x2="1102.78" y2="238.84" stroke="#000" stroke-width="2.45" stroke-linecap="round"/>
<line x1="1102.78" y1="238.84" x2="1110.32" y2="257.48" stroke="#000" stroke-width="2.45" stroke-linecap="round"/>
<line x1="1110.32" y1="257.48" x2="1097.95" y2="273.33" stroke="#000" stroke-width="2.45" stroke-linecap="round"/>
<line x1="1097.95" y1="273.33" x2="1078.03" y2="270.55" stroke="#000" stroke-width="2.45" stroke-linecap="round"/>
<line x1="1078.03" y1="270.55" x2="1070.49" y2="251.91" stroke="#000" stroke-width="2.45" stroke-linecap="round"/>
<line x1="1070.49" y1="251.91" x2="1082.86" y2="236.05" stroke="#000" stroke-width="2.45" stroke-linecap="round"/>
<line x1="1099.07" y1="244.68" x2="1103.59" y2="255.86" stroke="#000" stroke-width="2.45" stroke-linecap="butt"/>
<line x1="1094.75" y1="267.2" x2="1082.8" y2="265.53" stroke="#000" stroke-width="2.45" stroke-linecap="butt"/>
<line x1="1077.4" y1="252.2" x2="1084.83" y2="242.68" stroke="#000" stroke-width="2.45" stroke-linecap="butt"/>
<line x1="1097.95" y1="273.33" x2="1102.98" y2="285.75" stroke="#00f" stroke-width="2.45" stroke-linecap="butt"/>
<line x1="1113.83" y1="438.79" x2="1105.72" y2="449.46" stroke="#00f" stroke-width="2.45" stroke-linecap="butt"/>
<line x1="1105.72" y1="449.46" x2="1113.52" y2="468.01" stroke="#000" stroke-width="2.45" stroke-linecap="round"/>
<line x1="1113.52" y1="468.01" x2="1101.35" y2="484.04" stroke="#000" stroke-width="2.45" stroke-linecap="round"/>
<line x1="1101.35" y1="484.04" x2="1081.39" y2="481.51" stroke="#000" stroke-width="2.45" stroke-linecap="round"/>
<line x1="1081.39" y1="481.51" x2="1073.59" y2="462.96" stroke="#000" stroke-width="2.45" stroke-linecap="round"/>
<line x1="1073.59" y1="462.96" x2="1085.76" y2="446.94" stroke="#000" stroke-width="2.45" stroke-linecap="round"/>
<line x1="1085.76" y1="446.94" x2="1105.72" y2="449.46" stroke="#000" stroke-width="2.45" stroke-linecap="round"/>
<line x1="1106.6" y1="467.81" x2="1099.29" y2="477.42" stroke="#000" stroke-width="2.45" stroke-linecap="butt"/>
<line x1="1085.02" y1="475.62" x2="1080.35" y2="464.49" stroke="#000" stroke-width="2.45" stroke-linecap="butt"/>
<line x1="1089.05" y1="453.03" x2="1101.02" y2="454.55" stroke="#000" stroke-width="2.45" stroke-linecap="butt"/>
<line x1="1081.39" y1="481.51" x2="1069.22" y2="497.53" stroke="#000" stroke-width="2.45" stroke-linecap="butt"/>
<line x1="1069.22" y1="497.53" x2="1077.01" y2="516.08" stroke="#000" stroke-width="2.45" stroke-linecap="round"/>
<line x1="1077.01" y1="516.08" x2="1064.85" y2="532.11" stroke="#000" stroke-width="2.45" stroke-linecap="round"/>
<line x1="1064.85" y1="532.11" x2="1044.89" y2="529.58" stroke="#000" stroke-width="2.45" stroke-linecap="round"/>
<line x1="1044.89" y1="529.58" x2="1037.09" y2="511.03" stroke="#000" stroke-width="2.45" stroke-linecap="round"/>
<line x1="1037.09" y1="511.03" x2="1049.26" y2="495.01" stroke="#000" stroke-width="2.45" stroke-linecap="round"/>
<line x1="1049.26" y1="495.01" x2="1069.22" y2="497.53" stroke="#000" stroke-width="2.45" stroke-linecap="round"/>
<line x1="1070.09" y1="515.88" x2="1062.79" y2="525.49" stroke="#000" stroke-width="2.45" stroke-linecap="butt"/>
<line x1="1048.52" y1="523.69" x2="1043.85" y2="512.56" stroke="#000" stroke-width="2.45" stroke-linecap="butt"/>
<line x1="1052.55" y1="501.1" x2="1064.52" y2="502.62" stroke="#000" stroke-width="2.45" stroke-linecap="butt"/>
<line x1="1044.89" y1="529.58" x2="1036.78" y2="540.25" stroke="#00f" stroke-width="2.45" stroke-linecap="butt"/>
<line x1="909.73" y1="626.25" x2="896.38" y2="624.62" stroke="#00f" stroke-width="2.45" stroke-linecap="butt"/>
<line x1="896.38" y1="624.62" x2="884.24" y2="640.74" stroke="#000" stroke-width="2.45" stroke-linecap="round"/>
<line x1="884.24" y1="640.74" x2="864.21" y2="638.29" stroke="#000" stroke-width="2.45" stroke-linecap="round"/>
<line x1="864.21" y1="638.29" x2="856.32" y2="619.72" stroke="#000" stroke-width="2.45" stroke-linecap="round"/>
<line x1="856.32" y1="619.72" x2="868.45" y2="603.6" stroke="#000" stroke-width="2.45" stroke-linecap="round"/>
<line x1="868.45" y1="603.6" x2="888.48" y2="606.05" stroke="#000" stroke-width="2.45" stroke-linecap="round"/>
<line x1="888.48" y1="606.05" x2="896.38" y2="624.62" stroke="#000" stroke-width="2.45" stroke-linecap="round"/>
<line x1="889.43" y1="624.45" x2="882.15" y2="634.12" stroke="#000" stroke-width="2.45" stroke-linecap="butt"/>
<line x1="867.83" y1="632.37" x2="863.1" y2="621.23" stroke="#000" stroke-width="2.45" stroke-linecap="butt"/>
<line x1="871.77" y1="609.7" x2="883.79" y2="611.17" stroke="#000" stroke-width="2.45" stroke-linecap="butt"/>
<line x1="856.32" y1="619.72" x2="836.29" y2="617.28" stroke="#000" stroke-width="2.45" stroke-linecap="butt"/>
<line x1="836.29" y1="617.28" x2="824.16" y2="633.4" stroke="#000" stroke-width="2.45" stroke-linecap="round"/>
<line x1="824.16" y1="633.4" x2="804.13" y2="630.95" stroke="#000" stroke-width="2.45" stroke-linecap="round"/>
<line x1="804.13" y1="630.95" x2="796.24" y2="612.38" stroke="#000" stroke-width="2.45" stroke-linecap="round"/>
<line x1="796.24" y1="612.38" x2="808.37" y2="596.26" stroke="#000" stroke-width="2.45" stroke-linecap="round"/>
<line x1="808.37" y1="596.26" x2="828.4" y2="598.71" stroke="#000" stroke-width="2.45" stroke-linecap="round"/>
<line x1="828.4" y1="598.71" x2="836.29" y2="617.28" stroke="#000" stroke-width="2.45" stroke-linecap="round"/>
<line x1="829.35" y1="617.1" x2="822.07" y2="626.78" stroke="#000" stroke-width="2.45" stroke-linecap="butt"/>
<line x1="807.75" y1="625.03" x2="803.02" y2="613.88" stroke="#000" stroke-width="2.45" stroke-linecap="butt"/>
<line x1="811.69" y1="602.36" x2="823.71" y2="603.83" stroke="#000" stroke-width="2.45" stroke-linecap="butt"/>
<line x1="796.24" y1="612.38" x2="782.88" y2="610.75" stroke="#00f" stroke-width="2.45" stroke-linecap="butt"/>
<line x1="644.96" y1="543.71" x2="639.78" y2="531.09" stroke="#00f" stroke-width="2.45" stroke-linecap="butt"/>
<line x1="639.78" y1="531.09" x2="619.61" y2="528.35" stroke="#000" stroke-width="2.45" stroke-linecap="round"/>
<line x1="619.61" y1="528.35" x2="611.89" y2="509.51" stroke="#000" stroke-width="2.45" stroke-linecap="round"/>
<line x1="611.89" y1="509.51" x2="624.35" y2="493.41" stroke="#000" stroke-width="2.45" stroke-linecap="round"/>
<line x1="624.35" y1="493.41" x2="644.53" y2="496.14" stroke="#000" stroke-width="2.45" stroke-linecap="round"/>
<line x1="644.53" y1="496.14" x2="652.24" y2="514.99" stroke="#000" stroke-width="2.45" stroke-linecap="round"/>
<line x1="652.24" y1="514.99" x2="639.78" y2="531.09" stroke="#000" stroke-width="2.45" stroke-linecap="round"/>
<line x1="636.52" y1="524.89" x2="624.41" y2="523.25" stroke="#000" stroke-width="2.45" stroke-linecap="butt"/>
<line x1="618.89" y1="509.78" x2="626.37" y2="500.12" stroke="#000" stroke-width="2.45" stroke-linecap="butt"/>
<line x1="640.79" y1="502.07" x2="645.42" y2="513.38" stroke="#000" stroke-width="2.45" stroke-linecap="butt"/>
<line x1="624.35" y1="493.41" x2="616.63" y2="474.56" stroke="#000" stroke-width="2.45" stroke-linecap="butt"/>
<line x1="616.63" y1="474.56" x2="596.46" y2="471.83" stroke="#000" stroke-width="2.45" stroke-linecap="round"/>
<line x1="596.46" y1="471.83" x2="588.74" y2="452.98" stroke="#000" stroke-width="2.45" stroke-linecap="round"/>
<line x1="588.74" y1="452.98" x2="601.2" y2="436.88" stroke="#000" stroke-width="2.45" stroke-linecap="round"/>
<line x1="601.2" y1="436.88" x2="621.37" y2="439.62" stroke="#000" stroke-width="2.45" stroke-linecap="round"/>
<line x1="621.37" y1="439.62" x2="629.09" y2="458.46" stroke="#000" stroke-width="2.45" stroke-linecap="round"/>
<line x1="629.09" y1="458.46" x2="616.63" y2="474.56" stroke="#000" stroke-width="2.45" stroke-linecap="round"/>
<line x1="613.36" y1="468.37" x2="601.26" y2="466.72" stroke="#000" stroke-width="2.45" stroke-linecap="butt"/>
<line x1="595.74" y1="453.25" x2="603.21" y2="443.59" stroke="#000" stroke-width="2.45" stroke-linecap="butt"/>
<line x1="617.64" y1="445.55" x2="622.27" y2="456.85" stroke="#000" stroke-width="2.45" stroke-linecap="butt"/>
<line x1="601.2" y1="436.88" x2="596.03" y2="424.26" stroke="#00f" stroke-width="2.45" stroke-linecap="butt"/>
<line x1="585.19" y1="271.25" x2="593.36" y2="260.66" stroke="#00f" stroke-width="2.45" stroke-linecap="butt"/>
<line x1="593.36" y1="260.66" x2="585.71" y2="242.08" stroke="#000" stroke-width="2.45" stroke-linecap="round"/>
<line x1="585.71" y1="242.08" x2="597.98" y2="226.18" stroke="#000" stroke-width="2.45" stroke-linecap="round"/>
<line x1="597.98" y1="226.18" x2="617.89" y2="228.85" stroke="#000" stroke-width="2.45" stroke-linecap="round"/>
<line x1="617.89" y1="228.85" x2="625.53" y2="247.42" stroke="#000" stroke-width="2.45" stroke-linecap="round"/>
<line x1="625.53" y1="247.42" x2="613.27" y2="263.33" stroke="#000" stroke-width="2.45" stroke-linecap="round"/>
<line x1="613.27" y1="263.33" x2="593.36" y2="260.66" stroke="#000" stroke-width="2.45" stroke-linecap="round"/>
<line x1="597.03" y1="254.81" x2="592.44" y2="243.66" stroke="#000" stroke-width="2.45" stroke-linecap="butt"/>
<line x1="601.21" y1="232.28" x2="613.16" y2="233.89" stroke="#000" stroke-width="2.45" stroke-linecap="butt"/>
<line x1="618.63" y1="247.17" x2="611.27" y2="256.72" stroke="#000" stroke-width="2.45" stroke-linecap="butt"/>
<line x1="617.89" y1="228.85" x2="630.16" y2="212.94" stroke="#000" stroke-width="2.45" stroke-linecap="butt"/>
<line x1="630.16" y1="212.94" x2="622.51" y2="194.36" stroke="#000" stroke-width="2.45" stroke-linecap="round"/>
<line x1="622.51" y1="194.36" x2="634.78" y2="178.45" stroke="#000" stroke-width="2.45" stroke-linecap="round"/>
<line x1="634.78" y1="178.45" x2="654.69" y2="181.12" stroke="#000" stroke-width="2.45" stroke-linecap="round"/>
<line x1="654.69" y1="181.12" x2="662.34" y2="199.7" stroke="#000" stroke-width="2.45" stroke-linecap="round"/>
<line x1="662.34" y1="199.7" x2="650.07" y2="215.61" stroke="#000" stroke-width="2.45" stroke-linecap="round"/>
<line x1="650.07" y1="215.61" x2="630.16" y2="212.94" stroke="#000" stroke-width="2.45" stroke-linecap="round"/>
<line x1="633.83" y1="207.08" x2="629.24" y2="195.93" stroke="#000" stroke-width="2.45" stroke-linecap="butt"/>
<line x1="638.01" y1="184.56" x2="649.96" y2="186.16" stroke="#000" stroke-width="2.45" stroke-linecap="butt"/>
<line x1="655.43" y1="199.44" x2="648.07" y2="208.99" stroke="#000" stroke-width="2.45" stroke-linecap="butt"/>
<line x1="654.69" y1="181.12" x2="662.85" y2="170.53" stroke="#00f" stroke-width="2.45" stroke-linecap="butt"/>
<line x1="739.67" y1="169.4" x2="732.93" y2="160.93" stroke="#000" stroke-width="2.15" stroke-linecap="butt"/>
<line x1="732.53" y1="151.77" x2="738.51" y2="142.74" stroke="#000" stroke-width="2.15" stroke-linecap="butt"/>
<line x1="738.51" y1="142.74" x2="754.41" y2="147.15" stroke="#000" stroke-width="2.15" stroke-linecap="round"/>
<line x1="740.45" y1="148.07" x2="749.99" y2="150.72" stroke="#000" stroke-width="2.15" stroke-linecap="butt"/>
<line x1="754.41" y1="147.15" x2="755.12" y2="163.63" stroke="#000" stroke-width="2.15" stroke-linecap="round"/>
<text x="729.4" y="161.36" fill="#d6e400" font-size="13.5" text-anchor="middle" font-weight="bold" font-family="Liberation Sans">S</text>
<line x1="767.86" y1="174.12" x2="778.56" y2="172.52" stroke="#000" stroke-width="2.15" stroke-linecap="butt"/>
<line x1="786.7" y1="176.76" x2="791.53" y2="186.45" stroke="#000" stroke-width="2.15" stroke-linecap="butt"/>
<line x1="791.53" y1="186.45" x2="779.76" y2="198.01" stroke="#000" stroke-width="2.15" stroke-linecap="round"/>
<line x1="785.94" y1="185.47" x2="778.88" y2="192.41" stroke="#000" stroke-width="2.15" stroke-linecap="butt"/>
<line x1="779.76" y1="198.01" x2="765.13" y2="190.4" stroke="#000" stroke-width="2.15" stroke-linecap="round"/>
<text x="784.17" y="176.54" fill="#d6e400" font-size="13.5" text-anchor="middle" font-weight="bold" font-family="Liberation Sans">S</text>
<line x1="749.68" y1="196.17" x2="745.71" y2="206.25" stroke="#000" stroke-width="2.15" stroke-linecap="butt"/>
<line x1="737.97" y1="211.17" x2="727.16" y2="210.51" stroke="#000" stroke-width="2.15" stroke-linecap="butt"/>
<line x1="727.16" y1="210.51" x2="723.03" y2="194.54" stroke="#000" stroke-width="2.15" stroke-linecap="round"/>
<line x1="730.81" y1="206.16" x2="728.33" y2="196.58" stroke="#000" stroke-width="2.15" stroke-linecap="butt"/>
<line x1="723.03" y1="194.54" x2="736.94" y2="185.68" stroke="#000" stroke-width="2.15" stroke-linecap="round"/>
<text x="743.63" y="216.38" fill="#d6e400" font-size="13.5" text-anchor="middle" font-weight="bold" font-family="Liberation Sans">S</text>
<line x1="755.12" y1="163.63" x2="767.86" y2="174.12" stroke="#000" stroke-width="2.15" stroke-linecap="round"/>
<line x1="767.86" y1="174.12" x2="765.13" y2="190.4" stroke="#000" stroke-width="2.15" stroke-linecap="round"/>
<line x1="765.13" y1="190.4" x2="749.68" y2="196.17" stroke="#000" stroke-width="2.15" stroke-linecap="round"/>
<line x1="749.68" y1="196.17" x2="736.94" y2="185.68" stroke="#000" stroke-width="2.15" stroke-linecap="round"/>
<line x1="736.94" y1="185.68" x2="739.67" y2="169.4" stroke="#000" stroke-width="2.15" stroke-linecap="round"/>
<line x1="739.67" y1="169.4" x2="755.12" y2="163.63" stroke="#000" stroke-width="2.15" stroke-linecap="round"/>
<line x1="754.73" y1="169.29" x2="762.37" y2="175.59" stroke="#000" stroke-width="2.15" stroke-linecap="butt"/>
<line x1="760.42" y1="187.22" x2="751.15" y2="190.69" stroke="#000" stroke-width="2.15" stroke-linecap="butt"/>
<line x1="742.05" y1="183.19" x2="743.68" y2="173.42" stroke="#000" stroke-width="2.15" stroke-linecap="butt"/>
<line x1="738.51" y1="142.74" x2="732.73" y2="127.28" stroke="#f00" stroke-width="2.15" stroke-linecap="round"/>
<line x1="732.73" y1="127.28" x2="722.45" y2="125.56" stroke="#f00" stroke-width="2.15" stroke-linecap="butt"/>
<line x1="728.71" y1="131.3" x2="721.68" y2="130.12" stroke="#f00" stroke-width="2.15" stroke-linecap="butt"/>
<text x="716.45" y="129.42" fill="#00f" font-size="13.5" text-anchor="middle" font-weight="bold" font-family="Liberation Sans">N</text>
<line x1="714.09" y1="118.24" x2="711.08" y2="110.2" stroke="#00f" stroke-width="2.26" stroke-linecap="butt" stroke-dasharray="2.97,2.48"/>
<line x1="791.53" y1="186.45" x2="807.8" y2="189.17" stroke="#f00" stroke-width="2.15" stroke-linecap="round"/>
<line x1="807.8" y1="189.17" x2="814.43" y2="181.13" stroke="#f00" stroke-width="2.15" stroke-linecap="butt"/>
<line x1="806.34" y1="183.69" x2="810.87" y2="178.19" stroke="#f00" stroke-width="2.15" stroke-linecap="butt"/>
<text x="818.3" y="181.3" fill="#00f" font-size="13.5" text-anchor="middle" font-weight="bold" font-family="Liberation Sans">N</text>
<line x1="727.16" y1="210.51" x2="716.67" y2="223.25" stroke="#f00" stroke-width="2.15" stroke-linecap="round"/>
<line x1="716.67" y1="223.25" x2="720.32" y2="233.01" stroke="#f00" stroke-width="2.15" stroke-linecap="butt"/>
<line x1="722.15" y1="224.72" x2="724.65" y2="231.39" stroke="#f00" stroke-width="2.15" stroke-linecap="butt"/>
<text x="722.45" y="243.56" fill="#00f" font-size="13.5" text-anchor="middle" font-weight="bold" font-family="Liberation Sans">N</text>
<line x1="952.03" y1="166.6" x2="956" y2="156.53" stroke="#000" stroke-width="2.15" stroke-linecap="butt"/>
<line x1="963.73" y1="151.6" x2="974.55" y2="152.26" stroke="#000" stroke-width="2.15" stroke-linecap="butt"/>
<line x1="974.55" y1="152.26" x2="978.68" y2="168.24" stroke="#000" stroke-width="2.15" stroke-linecap="round"/>
<line x1="970.9" y1="156.61" x2="973.38" y2="166.2" stroke="#000" stroke-width="2.15" stroke-linecap="butt"/>
<line x1="978.68" y1="168.24" x2="964.76" y2="177.1" stroke="#000" stroke-width="2.15" stroke-linecap="round"/>
<text x="958.08" y="156.11" fill="#d6e400" font-size="13.5" text-anchor="middle" font-weight="bold" font-family="Liberation Sans">S</text>
<line x1="962.04" y1="193.37" x2="968.78" y2="201.84" stroke="#000" stroke-width="2.15" stroke-linecap="butt"/>
<line x1="969.18" y1="211.01" x2="963.2" y2="220.04" stroke="#000" stroke-width="2.15" stroke-linecap="butt"/>
<line x1="963.2" y1="220.04" x2="947.3" y2="215.63" stroke="#000" stroke-width="2.15" stroke-linecap="round"/>
<line x1="961.26" y1="214.7" x2="951.72" y2="212.06" stroke="#000" stroke-width="2.15" stroke-linecap="butt"/>
<line x1="947.3" y1="215.63" x2="946.59" y2="199.15" stroke="#000" stroke-width="2.15" stroke-linecap="round"/>
<text x="972.31" y="211.14" fill="#d6e400" font-size="13.5" text-anchor="middle" font-weight="bold" font-family="Liberation Sans">S</text>
<line x1="933.85" y1="188.65" x2="923.15" y2="190.26" stroke="#000" stroke-width="2.15" stroke-linecap="butt"/>
<line x1="915.01" y1="186.02" x2="910.18" y2="176.33" stroke="#000" stroke-width="2.15" stroke-linecap="butt"/>
<line x1="910.18" y1="176.33" x2="921.95" y2="164.76" stroke="#000" stroke-width="2.15" stroke-linecap="round"/>
<line x1="915.77" y1="177.31" x2="922.83" y2="170.37" stroke="#000" stroke-width="2.15" stroke-linecap="butt"/>
<line x1="921.95" y1="164.76" x2="936.58" y2="172.38" stroke="#000" stroke-width="2.15" stroke-linecap="round"/>
<text x="917.54" y="195.95" fill="#d6e400" font-size="13.5" text-anchor="middle" font-weight="bold" font-family="Liberation Sans">S</text>
<line x1="964.76" y1="177.1" x2="962.04" y2="193.37" stroke="#000" stroke-width="2.15" stroke-linecap="round"/>
<line x1="962.04" y1="193.37" x2="946.59" y2="199.15" stroke="#000" stroke-width="2.15" stroke-linecap="round"/>
<line x1="946.59" y1="199.15" x2="933.85" y2="188.65" stroke="#000" stroke-width="2.15" stroke-linecap="round"/>
<line x1="933.85" y1="188.65" x2="936.58" y2="172.38" stroke="#000" stroke-width="2.15" stroke-linecap="round"/>
<line x1="936.58" y1="172.38" x2="952.03" y2="166.6" stroke="#000" stroke-width="2.15" stroke-linecap="round"/>
<line x1="952.03" y1="166.6" x2="964.76" y2="177.1" stroke="#000" stroke-width="2.15" stroke-linecap="round"/>
<line x1="959.66" y1="179.59" x2="958.03" y2="189.35" stroke="#000" stroke-width="2.15" stroke-linecap="butt"/>
<line x1="946.98" y1="193.48" x2="939.34" y2="187.19" stroke="#000" stroke-width="2.15" stroke-linecap="butt"/>
<line x1="941.29" y1="175.55" x2="950.56" y2="172.08" stroke="#000" stroke-width="2.15" stroke-linecap="butt"/>
<line x1="974.55" y1="152.26" x2="985.04" y2="139.53" stroke="#f00" stroke-width="2.15" stroke-linecap="round"/>
<line x1="985.04" y1="139.53" x2="981.39" y2="129.76" stroke="#f00" stroke-width="2.15" stroke-linecap="butt"/>
<line x1="979.56" y1="138.06" x2="977.06" y2="131.38" stroke="#f00" stroke-width="2.15" stroke-linecap="butt"/>
<text x="979.26" y="128.93" fill="#00f" font-size="13.5" text-anchor="middle" font-weight="bold" font-family="Liberation Sans">N</text>
<line x1="983.56" y1="118.87" x2="989.01" y2="112.25" stroke="#00f" stroke-width="2.26" stroke-linecap="butt" stroke-dasharray="2.97,2.48"/>
<line x1="963.2" y1="220.04" x2="968.98" y2="235.49" stroke="#f00" stroke-width="2.15" stroke-linecap="round"/>
<line x1="968.98" y1="235.49" x2="979.26" y2="237.21" stroke="#f00" stroke-width="2.15" stroke-linecap="butt"/>
<line x1="973" y1="231.48" x2="980.03" y2="232.66" stroke="#f00" stroke-width="2.15" stroke-linecap="butt"/>
<text x="985.26" y="243.08" fill="#00f" font-size="13.5" text-anchor="middle" font-weight="bold" font-family="Liberation Sans">N</text>
<line x1="910.18" y1="176.33" x2="893.91" y2="173.6" stroke="#f00" stroke-width="2.15" stroke-linecap="round"/>
<line x1="893.91" y1="173.6" x2="887.27" y2="181.65" stroke="#f00" stroke-width="2.15" stroke-linecap="butt"/>
<line x1="895.37" y1="179.09" x2="890.84" y2="184.59" stroke="#f00" stroke-width="2.15" stroke-linecap="butt"/>
<text x="883.41" y="191.2" fill="#00f" font-size="13.5" text-anchor="middle" font-weight="bold" font-family="Liberation Sans">N</text>
<line x1="1034.59" y1="344.4" x2="1027.85" y2="335.93" stroke="#000" stroke-width="2.15" stroke-linecap="butt"/>
<line x1="1027.45" y1="326.76" x2="1033.43" y2="317.73" stroke="#000" stroke-width="2.15" stroke-linecap="butt"/>
<line x1="1033.43" y1="317.73" x2="1049.33" y2="322.14" stroke="#000" stroke-width="2.15" stroke-linecap="round"/>
<line x1="1035.37" y1="323.06" x2="1044.91" y2="325.71" stroke="#000" stroke-width="2.15" stroke-linecap="butt"/>
<line x1="1049.33" y1="322.14" x2="1050.04" y2="338.62" stroke="#000" stroke-width="2.15" stroke-linecap="round"/>
<text x="1024.32" y="336.35" fill="#d6e400" font-size="13.5" text-anchor="middle" font-weight="bold" font-family="Liberation Sans">S</text>
<line x1="1062.78" y1="349.11" x2="1073.48" y2="347.51" stroke="#000" stroke-width="2.15" stroke-linecap="butt"/>
<line x1="1081.62" y1="351.75" x2="1086.45" y2="361.44" stroke="#000" stroke-width="2.15" stroke-linecap="butt"/>
<line x1="1086.45" y1="361.44" x2="1074.68" y2="373.01" stroke="#000" stroke-width="2.15" stroke-linecap="round"/>
<line x1="1080.86" y1="360.46" x2="1073.8" y2="367.4" stroke="#000" stroke-width="2.15" stroke-linecap="butt"/>
<line x1="1074.68" y1="373.01" x2="1060.05" y2="365.39" stroke="#000" stroke-width="2.15" stroke-linecap="round"/>
<text x="1079.09" y="351.53" fill="#d6e400" font-size="13.5" text-anchor="middle" font-weight="bold" font-family="Liberation Sans">S</text>
<line x1="1044.6" y1="371.16" x2="1040.63" y2="381.24" stroke="#000" stroke-width="2.15" stroke-linecap="butt"/>
<line x1="1032.9" y1="386.17" x2="1022.09" y2="385.5" stroke="#000" stroke-width="2.15" stroke-linecap="butt"/>
<line x1="1022.09" y1="385.5" x2="1017.95" y2="369.53" stroke="#000" stroke-width="2.15" stroke-linecap="round"/>
<line x1="1025.73" y1="381.15" x2="1023.25" y2="371.57" stroke="#000" stroke-width="2.15" stroke-linecap="butt"/>
<line x1="1017.95" y1="369.53" x2="1031.87" y2="360.67" stroke="#000" stroke-width="2.15" stroke-linecap="round"/>
<text x="1038.56" y="391.37" fill="#d6e400" font-size="13.5" text-anchor="middle" font-weight="bold" font-family="Liberation Sans">S</text>
<line x1="1050.04" y1="338.62" x2="1062.78" y2="349.11" stroke="#000" stroke-width="2.15" stroke-linecap="round"/>
<line x1="1062.78" y1="349.11" x2="1060.05" y2="365.39" stroke="#000" stroke-width="2.15" stroke-linecap="round"/>
<line x1="1060.05" y1="365.39" x2="1044.6" y2="371.16" stroke="#000" stroke-width="2.15" stroke-linecap="round"/>
<line x1="1044.6" y1="371.16" x2="1031.87" y2="360.67" stroke="#000" stroke-width="2.15" stroke-linecap="round"/>
<line x1="1031.87" y1="360.67" x2="1034.59" y2="344.4" stroke="#000" stroke-width="2.15" stroke-linecap="round"/>
<line x1="1034.59" y1="344.4" x2="1050.04" y2="338.62" stroke="#000" stroke-width="2.15" stroke-linecap="round"/>
<line x1="1049.65" y1="344.28" x2="1057.29" y2="350.58" stroke="#000" stroke-width="2.15" stroke-linecap="butt"/>
<line x1="1055.34" y1="362.21" x2="1046.07" y2="365.68" stroke="#000" stroke-width="2.15" stroke-linecap="butt"/>
<line x1="1036.97" y1="358.18" x2="1038.6" y2="348.41" stroke="#000" stroke-width="2.15" stroke-linecap="butt"/>
<line x1="1033.43" y1="317.73" x2="1027.65" y2="302.27" stroke="#f00" stroke-width="2.15" stroke-linecap="round"/>
<line x1="1027.65" y1="302.27" x2="1017.37" y2="300.55" stroke="#f00" stroke-width="2.15" stroke-linecap="butt"/>
<line x1="1023.63" y1="306.29" x2="1016.6" y2="305.11" stroke="#f00" stroke-width="2.15" stroke-linecap="butt"/>
<text x="1011.38" y="304.41" fill="#00f" font-size="13.5" text-anchor="middle" font-weight="bold" font-family="Liberation Sans">N</text>
<line x1="1086.45" y1="361.44" x2="1102.73" y2="364.16" stroke="#f00" stroke-width="2.15" stroke-linecap="round"/>
<line x1="1102.73" y1="364.16" x2="1109.36" y2="356.12" stroke="#f00" stroke-width="2.15" stroke-linecap="butt"/>
<line x1="1101.26" y1="358.68" x2="1105.79" y2="353.18" stroke="#f00" stroke-width="2.15" stroke-linecap="butt"/>
<text x="1113.22" y="356.29" fill="#00f" font-size="13.5" text-anchor="middle" font-weight="bold" font-family="Liberation Sans">N</text>
<line x1="1119.88" y1="352.54" x2="1128.34" y2="353.96" stroke="#00f" stroke-width="2.26" stroke-linecap="butt" stroke-dasharray="2.97,2.48"/>
<line x1="1022.09" y1="385.5" x2="1011.59" y2="398.24" stroke="#f00" stroke-width="2.15" stroke-linecap="round"/>
<line x1="1011.59" y1="398.24" x2="1015.24" y2="408" stroke="#f00" stroke-width="2.15" stroke-linecap="butt"/>
<line x1="1017.07" y1="399.71" x2="1019.57" y2="406.38" stroke="#f00" stroke-width="2.15" stroke-linecap="butt"/>
<text x="1017.37" y="418.55" fill="#00f" font-size="13.5" text-anchor="middle" font-weight="bold" font-family="Liberation Sans">N</text>
<line x1="949.15" y1="509.36" x2="953.11" y2="499.29" stroke="#000" stroke-width="2.15" stroke-linecap="butt"/>
<line x1="960.85" y1="494.36" x2="971.66" y2="495.02" stroke="#000" stroke-width="2.15" stroke-linecap="butt"/>
<line x1="971.66" y1="495.02" x2="975.79" y2="510.99" stroke="#000" stroke-width="2.15" stroke-linecap="round"/>
<line x1="968.01" y1="499.37" x2="970.49" y2="508.96" stroke="#000" stroke-width="2.15" stroke-linecap="butt"/>
<line x1="975.79" y1="510.99" x2="961.88" y2="519.85" stroke="#000" stroke-width="2.15" stroke-linecap="round"/>
<text x="955.19" y="498.87" fill="#d6e400" font-size="13.5" text-anchor="middle" font-weight="bold" font-family="Liberation Sans">S</text>
<line x1="959.16" y1="536.13" x2="965.9" y2="544.6" stroke="#000" stroke-width="2.15" stroke-linecap="butt"/>
<line x1="966.3" y1="553.76" x2="960.32" y2="562.79" stroke="#000" stroke-width="2.15" stroke-linecap="butt"/>
<line x1="960.32" y1="562.79" x2="944.42" y2="558.38" stroke="#000" stroke-width="2.15" stroke-linecap="round"/>
<line x1="958.37" y1="557.46" x2="948.83" y2="554.81" stroke="#000" stroke-width="2.15" stroke-linecap="butt"/>
<line x1="944.42" y1="558.38" x2="943.7" y2="541.91" stroke="#000" stroke-width="2.15" stroke-linecap="round"/>
<text x="969.43" y="553.89" fill="#d6e400" font-size="13.5" text-anchor="middle" font-weight="bold" font-family="Liberation Sans">S</text>
<line x1="930.97" y1="531.41" x2="920.26" y2="533.01" stroke="#000" stroke-width="2.15" stroke-linecap="butt"/>
<line x1="912.13" y1="528.78" x2="907.29" y2="519.08" stroke="#000" stroke-width="2.15" stroke-linecap="butt"/>
<line x1="907.29" y1="519.08" x2="919.06" y2="507.52" stroke="#000" stroke-width="2.15" stroke-linecap="round"/>
<line x1="912.89" y1="520.07" x2="919.95" y2="513.13" stroke="#000" stroke-width="2.15" stroke-linecap="butt"/>
<line x1="919.06" y1="507.52" x2="933.69" y2="515.14" stroke="#000" stroke-width="2.15" stroke-linecap="round"/>
<text x="914.66" y="538.71" fill="#d6e400" font-size="13.5" text-anchor="middle" font-weight="bold" font-family="Liberation Sans">S</text>
<line x1="961.88" y1="519.85" x2="959.16" y2="536.13" stroke="#000" stroke-width="2.15" stroke-linecap="round"/>
<line x1="959.16" y1="536.13" x2="943.7" y2="541.91" stroke="#000" stroke-width="2.15" stroke-linecap="round"/>
<line x1="943.7" y1="541.91" x2="930.97" y2="531.41" stroke="#000" stroke-width="2.15" stroke-linecap="round"/>
<line x1="930.97" y1="531.41" x2="933.69" y2="515.14" stroke="#000" stroke-width="2.15" stroke-linecap="round"/>
<line x1="933.69" y1="515.14" x2="949.15" y2="509.36" stroke="#000" stroke-width="2.15" stroke-linecap="round"/>
<line x1="949.15" y1="509.36" x2="961.88" y2="519.85" stroke="#000" stroke-width="2.15" stroke-linecap="round"/>
<line x1="956.78" y1="522.35" x2="955.14" y2="532.11" stroke="#000" stroke-width="2.15" stroke-linecap="butt"/>
<line x1="944.09" y1="536.24" x2="936.45" y2="529.94" stroke="#000" stroke-width="2.15" stroke-linecap="butt"/>
<line x1="938.4" y1="518.31" x2="947.67" y2="514.84" stroke="#000" stroke-width="2.15" stroke-linecap="butt"/>
<line x1="971.66" y1="495.02" x2="982.16" y2="482.29" stroke="#f00" stroke-width="2.15" stroke-linecap="round"/>
<line x1="982.16" y1="482.29" x2="978.5" y2="472.52" stroke="#f00" stroke-width="2.15" stroke-linecap="butt"/>
<line x1="976.67" y1="480.81" x2="974.18" y2="474.14" stroke="#f00" stroke-width="2.15" stroke-linecap="butt"/>
<text x="976.38" y="471.69" fill="#00f" font-size="13.5" text-anchor="middle" font-weight="bold" font-family="Liberation Sans">N</text>
<line x1="960.32" y1="562.79" x2="966.1" y2="578.25" stroke="#f00" stroke-width="2.15" stroke-linecap="round"/>
<line x1="966.1" y1="578.25" x2="976.38" y2="579.97" stroke="#f00" stroke-width="2.15" stroke-linecap="butt"/>
<line x1="970.11" y1="574.24" x2="977.14" y2="575.41" stroke="#f00" stroke-width="2.15" stroke-linecap="butt"/>
<text x="982.37" y="585.83" fill="#00f" font-size="13.5" text-anchor="middle" font-weight="bold" font-family="Liberation Sans">N</text>
<line x1="984.73" y1="587.29" x2="987.74" y2="595.33" stroke="#00f" stroke-width="2.26" stroke-linecap="butt" stroke-dasharray="2.97,2.48"/>
<line x1="907.29" y1="519.08" x2="891.02" y2="516.36" stroke="#f00" stroke-width="2.15" stroke-linecap="round"/>
<line x1="891.02" y1="516.36" x2="884.39" y2="524.4" stroke="#f00" stroke-width="2.15" stroke-linecap="butt"/>
<line x1="892.49" y1="521.85" x2="887.95" y2="527.34" stroke="#f00" stroke-width="2.15" stroke-linecap="butt"/>
<text x="880.53" y="533.95" fill="#00f" font-size="13.5" text-anchor="middle" font-weight="bold" font-family="Liberation Sans">N</text>
<line x1="734.68" y1="512.96" x2="727.94" y2="504.49" stroke="#000" stroke-width="2.15" stroke-linecap="butt"/>
<line x1="727.54" y1="495.33" x2="733.52" y2="486.3" stroke="#000" stroke-width="2.15" stroke-linecap="butt"/>
<line x1="733.52" y1="486.3" x2="749.42" y2="490.71" stroke="#000" stroke-width="2.15" stroke-linecap="round"/>
<line x1="735.47" y1="491.63" x2="745.01" y2="494.28" stroke="#000" stroke-width="2.15" stroke-linecap="butt"/>
<line x1="749.42" y1="490.71" x2="750.14" y2="507.18" stroke="#000" stroke-width="2.15" stroke-linecap="round"/>
<text x="724.41" y="504.92" fill="#d6e400" font-size="13.5" text-anchor="middle" font-weight="bold" font-family="Liberation Sans">S</text>
<line x1="762.87" y1="517.68" x2="773.57" y2="516.08" stroke="#000" stroke-width="2.15" stroke-linecap="butt"/>
<line x1="781.71" y1="520.31" x2="786.55" y2="530.01" stroke="#000" stroke-width="2.15" stroke-linecap="butt"/>
<line x1="786.55" y1="530.01" x2="774.78" y2="541.57" stroke="#000" stroke-width="2.15" stroke-linecap="round"/>
<line x1="780.95" y1="529.02" x2="773.89" y2="535.96" stroke="#000" stroke-width="2.15" stroke-linecap="butt"/>
<line x1="774.78" y1="541.57" x2="760.15" y2="533.95" stroke="#000" stroke-width="2.15" stroke-linecap="round"/>
<text x="779.18" y="520.1" fill="#d6e400" font-size="13.5" text-anchor="middle" font-weight="bold" font-family="Liberation Sans">S</text>
<line x1="744.69" y1="539.73" x2="740.73" y2="549.8" stroke="#000" stroke-width="2.15" stroke-linecap="butt"/>
<line x1="732.99" y1="554.73" x2="722.18" y2="554.07" stroke="#000" stroke-width="2.15" stroke-linecap="butt"/>
<line x1="722.18" y1="554.07" x2="718.05" y2="538.1" stroke="#000" stroke-width="2.15" stroke-linecap="round"/>
<line x1="725.83" y1="549.72" x2="723.35" y2="540.13" stroke="#000" stroke-width="2.15" stroke-linecap="butt"/>
<line x1="718.05" y1="538.1" x2="731.96" y2="529.24" stroke="#000" stroke-width="2.15" stroke-linecap="round"/>
<text x="738.65" y="559.94" fill="#d6e400" font-size="13.5" text-anchor="middle" font-weight="bold" font-family="Liberation Sans">S</text>
<line x1="750.14" y1="507.18" x2="762.87" y2="517.68" stroke="#000" stroke-width="2.15" stroke-linecap="round"/>
<line x1="762.87" y1="517.68" x2="760.15" y2="533.95" stroke="#000" stroke-width="2.15" stroke-linecap="round"/>
<line x1="760.15" y1="533.95" x2="744.69" y2="539.73" stroke="#000" stroke-width="2.15" stroke-linecap="round"/>
<line x1="744.69" y1="539.73" x2="731.96" y2="529.24" stroke="#000" stroke-width="2.15" stroke-linecap="round"/>
<line x1="731.96" y1="529.24" x2="734.68" y2="512.96" stroke="#000" stroke-width="2.15" stroke-linecap="round"/>
<line x1="734.68" y1="512.96" x2="750.14" y2="507.18" stroke="#000" stroke-width="2.15" stroke-linecap="round"/>
<line x1="749.75" y1="512.85" x2="757.38" y2="519.14" stroke="#000" stroke-width="2.15" stroke-linecap="butt"/>
<line x1="755.44" y1="530.78" x2="746.16" y2="534.25" stroke="#000" stroke-width="2.15" stroke-linecap="butt"/>
<line x1="737.06" y1="526.74" x2="738.7" y2="516.98" stroke="#000" stroke-width="2.15" stroke-linecap="butt"/>
<line x1="733.52" y1="486.3" x2="727.74" y2="470.84" stroke="#f00" stroke-width="2.15" stroke-linecap="round"/>
<line x1="727.74" y1="470.84" x2="717.46" y2="469.12" stroke="#f00" stroke-width="2.15" stroke-linecap="butt"/>
<line x1="723.73" y1="474.85" x2="716.7" y2="473.68" stroke="#f00" stroke-width="2.15" stroke-linecap="butt"/>
<text x="711.47" y="472.98" fill="#00f" font-size="13.5" text-anchor="middle" font-weight="bold" font-family="Liberation Sans">N</text>
<line x1="786.55" y1="530.01" x2="802.82" y2="532.73" stroke="#f00" stroke-width="2.15" stroke-linecap="round"/>
<line x1="802.82" y1="532.73" x2="809.45" y2="524.68" stroke="#f00" stroke-width="2.15" stroke-linecap="butt"/>
<line x1="801.35" y1="527.24" x2="805.88" y2="521.75" stroke="#f00" stroke-width="2.15" stroke-linecap="butt"/>
<text x="813.31" y="524.86" fill="#00f" font-size="13.5" text-anchor="middle" font-weight="bold" font-family="Liberation Sans">N</text>
<line x1="722.18" y1="554.07" x2="711.68" y2="566.8" stroke="#f00" stroke-width="2.15" stroke-linecap="round"/>
<line x1="711.68" y1="566.8" x2="715.33" y2="576.57" stroke="#f00" stroke-width="2.15" stroke-linecap="butt"/>
<line x1="717.17" y1="568.28" x2="719.66" y2="574.95" stroke="#f00" stroke-width="2.15" stroke-linecap="butt"/>
<text x="717.46" y="587.12" fill="#00f" font-size="13.5" text-anchor="middle" font-weight="bold" font-family="Liberation Sans">N</text>
<line x1="713.17" y1="587.47" x2="707.71" y2="594.09" stroke="#00f" stroke-width="2.26" stroke-linecap="butt" stroke-dasharray="2.97,2.48"/>
<line x1="654.73" y1="334.67" x2="658.69" y2="324.6" stroke="#000" stroke-width="2.15" stroke-linecap="butt"/>
<line x1="666.43" y1="319.67" x2="677.24" y2="320.33" stroke="#000" stroke-width="2.15" stroke-linecap="butt"/>
<line x1="677.24" y1="320.33" x2="681.37" y2="336.3" stroke="#000" stroke-width="2.15" stroke-linecap="round"/>
<line x1="673.59" y1="324.68" x2="676.07" y2="334.26" stroke="#000" stroke-width="2.15" stroke-linecap="butt"/>
<line x1="681.37" y1="336.3" x2="667.46" y2="345.16" stroke="#000" stroke-width="2.15" stroke-linecap="round"/>
<text x="660.77" y="324.18" fill="#d6e400" font-size="13.5" text-anchor="middle" font-weight="bold" font-family="Liberation Sans">S</text>
<line x1="664.73" y1="361.44" x2="671.47" y2="369.91" stroke="#000" stroke-width="2.15" stroke-linecap="butt"/>
<line x1="671.87" y1="379.07" x2="665.9" y2="388.1" stroke="#000" stroke-width="2.15" stroke-linecap="butt"/>
<line x1="665.9" y1="388.1" x2="650" y2="383.69" stroke="#000" stroke-width="2.15" stroke-linecap="round"/>
<line x1="663.95" y1="382.77" x2="654.41" y2="380.12" stroke="#000" stroke-width="2.15" stroke-linecap="butt"/>
<line x1="650" y1="383.69" x2="649.28" y2="367.21" stroke="#000" stroke-width="2.15" stroke-linecap="round"/>
<text x="675" y="379.2" fill="#d6e400" font-size="13.5" text-anchor="middle" font-weight="bold" font-family="Liberation Sans">S</text>
<line x1="636.55" y1="356.72" x2="625.84" y2="358.32" stroke="#000" stroke-width="2.15" stroke-linecap="butt"/>
<line x1="617.71" y1="354.09" x2="612.87" y2="344.39" stroke="#000" stroke-width="2.15" stroke-linecap="butt"/>
<line x1="612.87" y1="344.39" x2="624.64" y2="332.83" stroke="#000" stroke-width="2.15" stroke-linecap="round"/>
<line x1="618.46" y1="345.37" x2="625.53" y2="338.44" stroke="#000" stroke-width="2.15" stroke-linecap="butt"/>
<line x1="624.64" y1="332.83" x2="639.27" y2="340.45" stroke="#000" stroke-width="2.15" stroke-linecap="round"/>
<text x="620.24" y="364.02" fill="#d6e400" font-size="13.5" text-anchor="middle" font-weight="bold" font-family="Liberation Sans">S</text>
<line x1="667.46" y1="345.16" x2="664.73" y2="361.44" stroke="#000" stroke-width="2.15" stroke-linecap="round"/>
<line x1="664.73" y1="361.44" x2="649.28" y2="367.21" stroke="#000" stroke-width="2.15" stroke-linecap="round"/>
<line x1="649.28" y1="367.21" x2="636.55" y2="356.72" stroke="#000" stroke-width="2.15" stroke-linecap="round"/>
<line x1="636.55" y1="356.72" x2="639.27" y2="340.45" stroke="#000" stroke-width="2.15" stroke-linecap="round"/>
<line x1="639.27" y1="340.45" x2="654.73" y2="334.67" stroke="#000" stroke-width="2.15" stroke-linecap="round"/>
<line x1="654.73" y1="334.67" x2="667.46" y2="345.16" stroke="#000" stroke-width="2.15" stroke-linecap="round"/>
<line x1="662.36" y1="347.65" x2="660.72" y2="357.42" stroke="#000" stroke-width="2.15" stroke-linecap="butt"/>
<line x1="649.67" y1="361.55" x2="642.03" y2="355.25" stroke="#000" stroke-width="2.15" stroke-linecap="butt"/>
<line x1="643.98" y1="343.62" x2="653.25" y2="340.15" stroke="#000" stroke-width="2.15" stroke-linecap="butt"/>
<line x1="677.24" y1="320.33" x2="687.73" y2="307.6" stroke="#f00" stroke-width="2.15" stroke-linecap="round"/>
<line x1="687.73" y1="307.6" x2="684.08" y2="297.83" stroke="#f00" stroke-width="2.15" stroke-linecap="butt"/>
<line x1="682.25" y1="306.12" x2="679.76" y2="299.45" stroke="#f00" stroke-width="2.15" stroke-linecap="butt"/>
<text x="681.96" y="297" fill="#00f" font-size="13.5" text-anchor="middle" font-weight="bold" font-family="Liberation Sans">N</text>
<line x1="665.9" y1="388.1" x2="671.68" y2="403.56" stroke="#f00" stroke-width="2.15" stroke-linecap="round"/>
<line x1="671.68" y1="403.56" x2="681.96" y2="405.28" stroke="#f00" stroke-width="2.15" stroke-linecap="butt"/>
<line x1="675.69" y1="399.55" x2="682.72" y2="400.72" stroke="#f00" stroke-width="2.15" stroke-linecap="butt"/>
<text x="687.95" y="411.14" fill="#00f" font-size="13.5" text-anchor="middle" font-weight="bold" font-family="Liberation Sans">N</text>
<line x1="612.87" y1="344.39" x2="596.6" y2="341.67" stroke="#f00" stroke-width="2.15" stroke-linecap="round"/>
<line x1="596.6" y1="341.67" x2="589.97" y2="349.71" stroke="#f00" stroke-width="2.15" stroke-linecap="butt"/>
<line x1="598.06" y1="347.15" x2="593.53" y2="352.65" stroke="#f00" stroke-width="2.15" stroke-linecap="butt"/>
<text x="586.1" y="359.26" fill="#00f" font-size="13.5" text-anchor="middle" font-weight="bold" font-family="Liberation Sans">N</text>
<line x1="579.45" y1="353.29" x2="570.98" y2="351.87" stroke="#00f" stroke-width="2.26" stroke-linecap="butt" stroke-dasharray="2.97,2.48"/>
<line x1="823.9" y1="177.29" x2="834.58" y2="178.91" stroke="#00f" stroke-width="2.15" stroke-linecap="butt"/>
<line x1="834.58" y1="178.91" x2="844.86" y2="166.05" stroke="#000" stroke-width="2.15" stroke-linecap="round"/>
<line x1="844.86" y1="166.05" x2="861.14" y2="168.53" stroke="#000" stroke-width="2.15" stroke-linecap="round"/>
<line x1="861.14" y1="168.53" x2="867.13" y2="183.86" stroke="#000" stroke-width="2.15" stroke-linecap="round"/>
<line x1="867.13" y1="183.86" x2="856.85" y2="196.72" stroke="#000" stroke-width="2.15" stroke-linecap="round"/>
<line x1="856.85" y1="196.72" x2="840.57" y2="194.25" stroke="#000" stroke-width="2.15" stroke-linecap="round"/>
<line x1="840.57" y1="194.25" x2="834.58" y2="178.91" stroke="#000" stroke-width="2.15" stroke-linecap="round"/>
<line x1="847.42" y1="171.11" x2="857.19" y2="172.59" stroke="#000" stroke-width="2.15" stroke-linecap="butt"/>
<line x1="861.48" y1="183.55" x2="855.31" y2="191.27" stroke="#000" stroke-width="2.15" stroke-linecap="butt"/>
<line x1="843.67" y1="189.5" x2="840.07" y2="180.3" stroke="#000" stroke-width="2.15" stroke-linecap="butt"/>
<line x1="867.13" y1="183.86" x2="877.8" y2="185.48" stroke="#00f" stroke-width="2.15" stroke-linecap="butt"/>
<line x1="987.48" y1="243.43" x2="991.79" y2="253.55" stroke="#00f" stroke-width="2.15" stroke-linecap="butt"/>
<line x1="991.79" y1="253.55" x2="1008.33" y2="255.56" stroke="#000" stroke-width="2.15" stroke-linecap="round"/>
<line x1="1008.33" y1="255.56" x2="1014.86" y2="270.9" stroke="#000" stroke-width="2.15" stroke-linecap="round"/>
<line x1="1014.86" y1="270.9" x2="1004.85" y2="284.22" stroke="#000" stroke-width="2.15" stroke-linecap="round"/>
<line x1="1004.85" y1="284.22" x2="988.3" y2="282.21" stroke="#000" stroke-width="2.15" stroke-linecap="round"/>
<line x1="988.3" y1="282.21" x2="981.77" y2="266.87" stroke="#000" stroke-width="2.15" stroke-linecap="round"/>
<line x1="981.77" y1="266.87" x2="991.79" y2="253.55" stroke="#000" stroke-width="2.15" stroke-linecap="round"/>
<line x1="1005.34" y1="260.46" x2="1009.26" y2="269.66" stroke="#000" stroke-width="2.15" stroke-linecap="butt"/>
<line x1="1002.1" y1="279.18" x2="992.17" y2="277.98" stroke="#000" stroke-width="2.15" stroke-linecap="butt"/>
<line x1="987.5" y1="267.01" x2="993.51" y2="259.02" stroke="#000" stroke-width="2.15" stroke-linecap="butt"/>
<line x1="1004.85" y1="284.22" x2="1009.15" y2="294.33" stroke="#00f" stroke-width="2.15" stroke-linecap="butt"/>
<line x1="1013.91" y1="418.18" x2="1007.12" y2="426.98" stroke="#00f" stroke-width="2.15" stroke-linecap="butt"/>
<line x1="1007.12" y1="426.98" x2="1013.5" y2="442.49" stroke="#000" stroke-width="2.15" stroke-linecap="round"/>
<line x1="1013.5" y1="442.49" x2="1003.25" y2="455.78" stroke="#000" stroke-width="2.15" stroke-linecap="round"/>
<line x1="1003.25" y1="455.78" x2="986.63" y2="453.55" stroke="#000" stroke-width="2.15" stroke-linecap="round"/>
<line x1="986.63" y1="453.55" x2="980.24" y2="438.03" stroke="#000" stroke-width="2.15" stroke-linecap="round"/>
<line x1="980.24" y1="438.03" x2="990.49" y2="424.74" stroke="#000" stroke-width="2.15" stroke-linecap="round"/>
<line x1="990.49" y1="424.74" x2="1007.12" y2="426.98" stroke="#000" stroke-width="2.15" stroke-linecap="round"/>
<line x1="1007.73" y1="442.28" x2="1001.58" y2="450.25" stroke="#000" stroke-width="2.15" stroke-linecap="butt"/>
<line x1="989.69" y1="448.66" x2="985.86" y2="439.35" stroke="#000" stroke-width="2.15" stroke-linecap="butt"/>
<line x1="993.19" y1="429.85" x2="1003.17" y2="431.19" stroke="#000" stroke-width="2.15" stroke-linecap="butt"/>
<line x1="986.63" y1="453.55" x2="979.84" y2="462.34" stroke="#00f" stroke-width="2.15" stroke-linecap="butt"/>
<line x1="874.91" y1="528.33" x2="863.72" y2="526.82" stroke="#00f" stroke-width="2.15" stroke-linecap="butt"/>
<line x1="863.72" y1="526.82" x2="853.35" y2="540.23" stroke="#000" stroke-width="2.15" stroke-linecap="round"/>
<line x1="853.35" y1="540.23" x2="836.55" y2="537.96" stroke="#000" stroke-width="2.15" stroke-linecap="round"/>
<line x1="836.55" y1="537.96" x2="830.12" y2="522.27" stroke="#000" stroke-width="2.15" stroke-linecap="round"/>
<line x1="830.12" y1="522.27" x2="840.49" y2="508.86" stroke="#000" stroke-width="2.15" stroke-linecap="round"/>
<line x1="840.49" y1="508.86" x2="857.29" y2="511.13" stroke="#000" stroke-width="2.15" stroke-linecap="round"/>
<line x1="857.29" y1="511.13" x2="863.72" y2="526.82" stroke="#000" stroke-width="2.15" stroke-linecap="round"/>
<line x1="857.89" y1="526.6" x2="851.67" y2="534.65" stroke="#000" stroke-width="2.15" stroke-linecap="butt"/>
<line x1="839.66" y1="533.02" x2="835.8" y2="523.61" stroke="#000" stroke-width="2.15" stroke-linecap="butt"/>
<line x1="843.21" y1="514.02" x2="853.29" y2="515.38" stroke="#000" stroke-width="2.15" stroke-linecap="butt"/>
<line x1="830.12" y1="522.27" x2="818.93" y2="520.76" stroke="#00f" stroke-width="2.15" stroke-linecap="butt"/>
<line x1="709.45" y1="462.82" x2="705.59" y2="452.66" stroke="#00f" stroke-width="2.15" stroke-linecap="butt"/>
<line x1="705.59" y1="452.66" x2="689.26" y2="450.02" stroke="#000" stroke-width="2.15" stroke-linecap="round"/>
<line x1="689.26" y1="450.02" x2="683.38" y2="434.56" stroke="#000" stroke-width="2.15" stroke-linecap="round"/>
<line x1="683.38" y1="434.56" x2="693.83" y2="421.74" stroke="#000" stroke-width="2.15" stroke-linecap="round"/>
<line x1="693.83" y1="421.74" x2="710.16" y2="424.38" stroke="#000" stroke-width="2.15" stroke-linecap="round"/>
<line x1="710.16" y1="424.38" x2="716.04" y2="439.84" stroke="#000" stroke-width="2.15" stroke-linecap="round"/>
<line x1="716.04" y1="439.84" x2="705.59" y2="452.66" stroke="#000" stroke-width="2.15" stroke-linecap="round"/>
<line x1="703.06" y1="447.56" x2="693.26" y2="445.98" stroke="#000" stroke-width="2.15" stroke-linecap="butt"/>
<line x1="689.06" y1="434.92" x2="695.33" y2="427.23" stroke="#000" stroke-width="2.15" stroke-linecap="butt"/>
<line x1="707" y1="429.12" x2="710.53" y2="438.39" stroke="#000" stroke-width="2.15" stroke-linecap="butt"/>
<line x1="693.83" y1="421.74" x2="689.96" y2="411.58" stroke="#00f" stroke-width="2.15" stroke-linecap="butt"/>
<line x1="685.38" y1="287.62" x2="692.08" y2="278.78" stroke="#00f" stroke-width="2.15" stroke-linecap="butt"/>
<line x1="692.08" y1="278.78" x2="685.57" y2="263.33" stroke="#000" stroke-width="2.15" stroke-linecap="round"/>
<line x1="685.57" y1="263.33" x2="695.69" y2="249.97" stroke="#000" stroke-width="2.15" stroke-linecap="round"/>
<line x1="695.69" y1="249.97" x2="712.32" y2="252.06" stroke="#000" stroke-width="2.15" stroke-linecap="round"/>
<line x1="712.32" y1="252.06" x2="718.83" y2="267.51" stroke="#000" stroke-width="2.15" stroke-linecap="round"/>
<line x1="718.83" y1="267.51" x2="708.71" y2="280.87" stroke="#000" stroke-width="2.15" stroke-linecap="round"/>
<line x1="708.71" y1="280.87" x2="692.08" y2="278.78" stroke="#000" stroke-width="2.15" stroke-linecap="round"/>
<line x1="695.1" y1="273.87" x2="691.2" y2="264.6" stroke="#000" stroke-width="2.15" stroke-linecap="butt"/>
<line x1="698.43" y1="255.05" x2="708.41" y2="256.3" stroke="#000" stroke-width="2.15" stroke-linecap="butt"/>
<line x1="713.07" y1="267.34" x2="706.99" y2="275.36" stroke="#000" stroke-width="2.15" stroke-linecap="butt"/>
<line x1="712.32" y1="252.06" x2="719.02" y2="243.22" stroke="#00f" stroke-width="2.15" stroke-linecap="butt"/>
<line x1="908.36" y1="243.66" x2="910.91" y2="235.8" stroke="#000" stroke-width="1.7" stroke-linecap="butt"/>
<line x1="916.84" y1="231.49" x2="925.11" y2="231.49" stroke="#000" stroke-width="1.7" stroke-linecap="butt"/>
<line x1="925.11" y1="231.49" x2="929.06" y2="243.66" stroke="#000" stroke-width="1.7" stroke-linecap="round"/>
<line x1="922.49" y1="235.03" x2="924.86" y2="242.34" stroke="#000" stroke-width="1.7" stroke-linecap="butt"/>
<line x1="929.06" y1="243.66" x2="918.71" y2="251.18" stroke="#000" stroke-width="1.7" stroke-linecap="round"/>
<text x="912.31" y="235.38" fill="#d6e400" font-size="10.8" text-anchor="middle" font-weight="bold" font-family="Liberation Sans">S</text>
<line x1="917.37" y1="263.91" x2="922.9" y2="270.05" stroke="#000" stroke-width="1.7" stroke-linecap="butt"/>
<line x1="923.67" y1="277.35" x2="919.54" y2="284.51" stroke="#000" stroke-width="1.7" stroke-linecap="butt"/>
<line x1="919.54" y1="284.51" x2="907.02" y2="281.85" stroke="#000" stroke-width="1.7" stroke-linecap="round"/>
<line x1="917.78" y1="280.47" x2="910.27" y2="278.87" stroke="#000" stroke-width="1.7" stroke-linecap="butt"/>
<line x1="907.02" y1="281.85" x2="905.68" y2="269.12" stroke="#000" stroke-width="1.7" stroke-linecap="round"/>
<text x="925.94" y="277.31" fill="#d6e400" font-size="10.8" text-anchor="middle" font-weight="bold" font-family="Liberation Sans">S</text>
<line x1="895.32" y1="261.6" x2="887.25" y2="263.31" stroke="#000" stroke-width="1.7" stroke-linecap="butt"/>
<line x1="880.54" y1="260.33" x2="876.41" y2="253.17" stroke="#000" stroke-width="1.7" stroke-linecap="butt"/>
<line x1="876.41" y1="253.17" x2="884.97" y2="243.66" stroke="#000" stroke-width="1.7" stroke-linecap="round"/>
<line x1="880.79" y1="253.67" x2="885.93" y2="247.96" stroke="#000" stroke-width="1.7" stroke-linecap="butt"/>
<line x1="884.97" y1="243.66" x2="896.66" y2="248.87" stroke="#000" stroke-width="1.7" stroke-linecap="round"/>
<text x="882.81" y="268.15" fill="#d6e400" font-size="10.8" text-anchor="middle" font-weight="bold" font-family="Liberation Sans">S</text>
<line x1="918.71" y1="251.18" x2="917.37" y2="263.91" stroke="#000" stroke-width="1.7" stroke-linecap="round"/>
<line x1="917.37" y1="263.91" x2="905.68" y2="269.12" stroke="#000" stroke-width="1.7" stroke-linecap="round"/>
<line x1="905.68" y1="269.12" x2="895.32" y2="261.6" stroke="#000" stroke-width="1.7" stroke-linecap="round"/>
<line x1="895.32" y1="261.6" x2="896.66" y2="248.87" stroke="#000" stroke-width="1.7" stroke-linecap="round"/>
<line x1="896.66" y1="248.87" x2="908.36" y2="243.66" stroke="#000" stroke-width="1.7" stroke-linecap="round"/>
<line x1="908.36" y1="243.66" x2="918.71" y2="251.18" stroke="#000" stroke-width="1.7" stroke-linecap="round"/>
<line x1="914.88" y1="253.36" x2="914.08" y2="260.99" stroke="#000" stroke-width="1.7" stroke-linecap="butt"/>
<line x1="905.72" y1="264.72" x2="899.5" y2="260.2" stroke="#000" stroke-width="1.7" stroke-linecap="butt"/>
<line x1="900.46" y1="251.1" x2="907.48" y2="247.98" stroke="#000" stroke-width="1.7" stroke-linecap="butt"/>
<line x1="925.11" y1="231.49" x2="932.63" y2="221.14" stroke="#f00" stroke-width="1.7" stroke-linecap="round"/>
<line x1="932.63" y1="221.14" x2="929.4" y2="213.88" stroke="#f00" stroke-width="1.7" stroke-linecap="butt"/>
<line x1="928.32" y1="220.25" x2="926.13" y2="215.34" stroke="#f00" stroke-width="1.7" stroke-linecap="butt"/>
<text x="927.43" y="213.33" fill="#00f" font-size="10.8" text-anchor="middle" font-weight="bold" font-family="Liberation Sans">N</text>
<line x1="930.6" y1="205.07" x2="934.51" y2="199.69" stroke="#00f" stroke-width="1.78" stroke-linecap="butt" stroke-dasharray="2.3,1.92"/>
<line x1="919.54" y1="284.51" x2="924.74" y2="296.2" stroke="#f00" stroke-width="1.7" stroke-linecap="round"/>
<line x1="924.74" y1="296.2" x2="932.64" y2="297.03" stroke="#f00" stroke-width="1.7" stroke-linecap="butt"/>
<line x1="927.66" y1="292.9" x2="933.01" y2="293.47" stroke="#f00" stroke-width="1.7" stroke-linecap="butt"/>
<text x="937.47" y="301.43" fill="#00f" font-size="10.8" text-anchor="middle" font-weight="bold" font-family="Liberation Sans">N</text>
<line x1="876.41" y1="253.17" x2="863.68" y2="251.84" stroke="#f00" stroke-width="1.7" stroke-linecap="round"/>
<line x1="863.68" y1="251.84" x2="859.01" y2="258.26" stroke="#f00" stroke-width="1.7" stroke-linecap="butt"/>
<line x1="865.07" y1="256.01" x2="861.91" y2="260.37" stroke="#f00" stroke-width="1.7" stroke-linecap="butt"/>
<text x="856.16" y="266.08" fill="#00f" font-size="10.8" text-anchor="middle" font-weight="bold" font-family="Liberation Sans">N</text>
<line x1="908.01" y1="440.71" x2="910.57" y2="432.86" stroke="#000" stroke-width="1.7" stroke-linecap="butt"/>
<line x1="916.5" y1="428.54" x2="924.77" y2="428.54" stroke="#000" stroke-width="1.7" stroke-linecap="butt"/>
<line x1="924.77" y1="428.54" x2="928.72" y2="440.72" stroke="#000" stroke-width="1.7" stroke-linecap="round"/>
<line x1="922.15" y1="432.08" x2="924.52" y2="439.39" stroke="#000" stroke-width="1.7" stroke-linecap="butt"/>
<line x1="928.72" y1="440.72" x2="918.37" y2="448.24" stroke="#000" stroke-width="1.7" stroke-linecap="round"/>
<text x="911.97" y="432.43" fill="#d6e400" font-size="10.8" text-anchor="middle" font-weight="bold" font-family="Liberation Sans">S</text>
<line x1="917.03" y1="460.97" x2="922.56" y2="467.1" stroke="#000" stroke-width="1.7" stroke-linecap="butt"/>
<line x1="923.33" y1="474.4" x2="919.19" y2="481.56" stroke="#000" stroke-width="1.7" stroke-linecap="butt"/>
<line x1="919.19" y1="481.56" x2="906.67" y2="478.9" stroke="#000" stroke-width="1.7" stroke-linecap="round"/>
<line x1="917.44" y1="477.52" x2="909.92" y2="475.92" stroke="#000" stroke-width="1.7" stroke-linecap="butt"/>
<line x1="906.67" y1="478.9" x2="905.34" y2="466.17" stroke="#000" stroke-width="1.7" stroke-linecap="round"/>
<text x="925.6" y="474.36" fill="#d6e400" font-size="10.8" text-anchor="middle" font-weight="bold" font-family="Liberation Sans">S</text>
<line x1="894.98" y1="458.65" x2="886.9" y2="460.37" stroke="#000" stroke-width="1.7" stroke-linecap="butt"/>
<line x1="880.2" y1="457.38" x2="876.07" y2="450.22" stroke="#000" stroke-width="1.7" stroke-linecap="butt"/>
<line x1="876.07" y1="450.22" x2="884.63" y2="440.71" stroke="#000" stroke-width="1.7" stroke-linecap="round"/>
<line x1="880.44" y1="450.72" x2="885.58" y2="445.01" stroke="#000" stroke-width="1.7" stroke-linecap="butt"/>
<line x1="884.63" y1="440.71" x2="896.32" y2="445.92" stroke="#000" stroke-width="1.7" stroke-linecap="round"/>
<text x="882.47" y="465.2" fill="#d6e400" font-size="10.8" text-anchor="middle" font-weight="bold" font-family="Liberation Sans">S</text>
<line x1="918.37" y1="448.24" x2="917.03" y2="460.97" stroke="#000" stroke-width="1.7" stroke-linecap="round"/>
<line x1="917.03" y1="460.97" x2="905.34" y2="466.17" stroke="#000" stroke-width="1.7" stroke-linecap="round"/>
<line x1="905.34" y1="466.17" x2="894.98" y2="458.65" stroke="#000" stroke-width="1.7" stroke-linecap="round"/>
<line x1="894.98" y1="458.65" x2="896.32" y2="445.92" stroke="#000" stroke-width="1.7" stroke-linecap="round"/>
<line x1="896.32" y1="445.92" x2="908.01" y2="440.71" stroke="#000" stroke-width="1.7" stroke-linecap="round"/>
<line x1="908.01" y1="440.71" x2="918.37" y2="448.24" stroke="#000" stroke-width="1.7" stroke-linecap="round"/>
<line x1="914.54" y1="450.41" x2="913.74" y2="458.04" stroke="#000" stroke-width="1.7" stroke-linecap="butt"/>
<line x1="905.37" y1="461.77" x2="899.16" y2="457.25" stroke="#000" stroke-width="1.7" stroke-linecap="butt"/>
<line x1="900.12" y1="448.15" x2="907.13" y2="445.03" stroke="#000" stroke-width="1.7" stroke-linecap="butt"/>
<line x1="924.77" y1="428.54" x2="932.29" y2="418.19" stroke="#f00" stroke-width="1.7" stroke-linecap="round"/>
<line x1="932.29" y1="418.19" x2="929.06" y2="410.93" stroke="#f00" stroke-width="1.7" stroke-linecap="butt"/>
<line x1="927.98" y1="417.31" x2="925.79" y2="412.39" stroke="#f00" stroke-width="1.7" stroke-linecap="butt"/>
<text x="927.08" y="410.38" fill="#00f" font-size="10.8" text-anchor="middle" font-weight="bold" font-family="Liberation Sans">N</text>
<line x1="919.19" y1="481.56" x2="924.4" y2="493.25" stroke="#f00" stroke-width="1.7" stroke-linecap="round"/>
<line x1="924.4" y1="493.25" x2="932.3" y2="494.08" stroke="#f00" stroke-width="1.7" stroke-linecap="butt"/>
<line x1="927.32" y1="489.96" x2="932.67" y2="490.52" stroke="#f00" stroke-width="1.7" stroke-linecap="butt"/>
<text x="937.13" y="498.48" fill="#00f" font-size="10.8" text-anchor="middle" font-weight="bold" font-family="Liberation Sans">N</text>
<line x1="939.33" y1="499.52" x2="942.03" y2="505.6" stroke="#00f" stroke-width="1.78" stroke-linecap="butt" stroke-dasharray="2.3,1.92"/>
<line x1="876.07" y1="450.22" x2="863.34" y2="448.89" stroke="#f00" stroke-width="1.7" stroke-linecap="round"/>
<line x1="863.34" y1="448.89" x2="858.67" y2="455.31" stroke="#f00" stroke-width="1.7" stroke-linecap="butt"/>
<line x1="864.73" y1="453.06" x2="861.57" y2="457.42" stroke="#f00" stroke-width="1.7" stroke-linecap="butt"/>
<text x="855.81" y="463.13" fill="#00f" font-size="10.8" text-anchor="middle" font-weight="bold" font-family="Liberation Sans">N</text>
<line x1="737.21" y1="341.5" x2="739.76" y2="333.65" stroke="#000" stroke-width="1.7" stroke-linecap="butt"/>
<line x1="745.7" y1="329.33" x2="753.96" y2="329.33" stroke="#000" stroke-width="1.7" stroke-linecap="butt"/>
<line x1="753.96" y1="329.33" x2="757.92" y2="341.51" stroke="#000" stroke-width="1.7" stroke-linecap="round"/>
<line x1="751.34" y1="332.87" x2="753.72" y2="340.18" stroke="#000" stroke-width="1.7" stroke-linecap="butt"/>
<line x1="757.92" y1="341.51" x2="747.56" y2="349.02" stroke="#000" stroke-width="1.7" stroke-linecap="round"/>
<text x="741.16" y="333.22" fill="#d6e400" font-size="10.8" text-anchor="middle" font-weight="bold" font-family="Liberation Sans">S</text>
<line x1="746.23" y1="361.75" x2="751.75" y2="367.89" stroke="#000" stroke-width="1.7" stroke-linecap="butt"/>
<line x1="752.52" y1="375.19" x2="748.39" y2="382.35" stroke="#000" stroke-width="1.7" stroke-linecap="butt"/>
<line x1="748.39" y1="382.35" x2="735.87" y2="379.69" stroke="#000" stroke-width="1.7" stroke-linecap="round"/>
<line x1="746.63" y1="378.31" x2="739.12" y2="376.71" stroke="#000" stroke-width="1.7" stroke-linecap="butt"/>
<line x1="735.87" y1="379.69" x2="734.53" y2="366.96" stroke="#000" stroke-width="1.7" stroke-linecap="round"/>
<text x="754.79" y="375.15" fill="#d6e400" font-size="10.8" text-anchor="middle" font-weight="bold" font-family="Liberation Sans">S</text>
<line x1="724.18" y1="359.44" x2="716.1" y2="361.16" stroke="#000" stroke-width="1.7" stroke-linecap="butt"/>
<line x1="709.39" y1="358.17" x2="705.26" y2="351.01" stroke="#000" stroke-width="1.7" stroke-linecap="butt"/>
<line x1="705.26" y1="351.01" x2="713.83" y2="341.5" stroke="#000" stroke-width="1.7" stroke-linecap="round"/>
<line x1="709.64" y1="351.51" x2="714.78" y2="345.8" stroke="#000" stroke-width="1.7" stroke-linecap="butt"/>
<line x1="713.83" y1="341.5" x2="725.51" y2="346.71" stroke="#000" stroke-width="1.7" stroke-linecap="round"/>
<text x="711.66" y="365.99" fill="#d6e400" font-size="10.8" text-anchor="middle" font-weight="bold" font-family="Liberation Sans">S</text>
<line x1="747.56" y1="349.02" x2="746.23" y2="361.75" stroke="#000" stroke-width="1.7" stroke-linecap="round"/>
<line x1="746.23" y1="361.75" x2="734.53" y2="366.96" stroke="#000" stroke-width="1.7" stroke-linecap="round"/>
<line x1="734.53" y1="366.96" x2="724.18" y2="359.44" stroke="#000" stroke-width="1.7" stroke-linecap="round"/>
<line x1="724.18" y1="359.44" x2="725.51" y2="346.71" stroke="#000" stroke-width="1.7" stroke-linecap="round"/>
<line x1="725.51" y1="346.71" x2="737.21" y2="341.5" stroke="#000" stroke-width="1.7" stroke-linecap="round"/>
<line x1="737.21" y1="341.5" x2="747.56" y2="349.02" stroke="#000" stroke-width="1.7" stroke-linecap="round"/>
<line x1="743.73" y1="351.2" x2="742.93" y2="358.83" stroke="#000" stroke-width="1.7" stroke-linecap="butt"/>
<line x1="734.57" y1="362.56" x2="728.35" y2="358.04" stroke="#000" stroke-width="1.7" stroke-linecap="butt"/>
<line x1="729.31" y1="348.94" x2="736.33" y2="345.82" stroke="#000" stroke-width="1.7" stroke-linecap="butt"/>
<line x1="753.96" y1="329.33" x2="761.48" y2="318.98" stroke="#f00" stroke-width="1.7" stroke-linecap="round"/>
<line x1="761.48" y1="318.98" x2="758.25" y2="311.72" stroke="#f00" stroke-width="1.7" stroke-linecap="butt"/>
<line x1="757.17" y1="318.09" x2="754.98" y2="313.18" stroke="#f00" stroke-width="1.7" stroke-linecap="butt"/>
<text x="756.28" y="311.17" fill="#00f" font-size="10.8" text-anchor="middle" font-weight="bold" font-family="Liberation Sans">N</text>
<line x1="748.39" y1="382.35" x2="753.59" y2="394.04" stroke="#f00" stroke-width="1.7" stroke-linecap="round"/>
<line x1="753.59" y1="394.04" x2="761.49" y2="394.87" stroke="#f00" stroke-width="1.7" stroke-linecap="butt"/>
<line x1="756.52" y1="390.74" x2="761.87" y2="391.31" stroke="#f00" stroke-width="1.7" stroke-linecap="butt"/>
<text x="766.32" y="399.27" fill="#00f" font-size="10.8" text-anchor="middle" font-weight="bold" font-family="Liberation Sans">N</text>
<line x1="705.26" y1="351.01" x2="692.53" y2="349.68" stroke="#f00" stroke-width="1.7" stroke-linecap="round"/>
<line x1="692.53" y1="349.68" x2="687.86" y2="356.1" stroke="#f00" stroke-width="1.7" stroke-linecap="butt"/>
<line x1="693.93" y1="353.85" x2="690.76" y2="358.21" stroke="#f00" stroke-width="1.7" stroke-linecap="butt"/>
<text x="685.01" y="363.92" fill="#00f" font-size="10.8" text-anchor="middle" font-weight="bold" font-family="Liberation Sans">N</text>
<line x1="679.64" y1="359.47" x2="673.02" y2="358.77" stroke="#00f" stroke-width="1.78" stroke-linecap="butt" stroke-dasharray="2.3,1.92"/>
<line x1="805.23" y1="256.84" x2="797.71" y2="267.19" stroke="#000" stroke-width="1.7" stroke-linecap="round"/>
<line x1="797.71" y1="267.19" x2="784.98" y2="265.86" stroke="#000" stroke-width="1.7" stroke-linecap="round"/>
<line x1="784.98" y1="265.86" x2="779.77" y2="254.16" stroke="#000" stroke-width="1.7" stroke-linecap="round"/>
<line x1="779.77" y1="254.16" x2="787.29" y2="243.81" stroke="#000" stroke-width="1.7" stroke-linecap="round"/>
<line x1="787.29" y1="243.81" x2="800.02" y2="245.14" stroke="#000" stroke-width="1.7" stroke-linecap="round"/>
<line x1="800.02" y1="245.14" x2="805.23" y2="256.84" stroke="#000" stroke-width="1.7" stroke-linecap="round"/>
<line x1="795.53" y1="263.36" x2="787.9" y2="262.56" stroke="#000" stroke-width="1.7" stroke-linecap="butt"/>
<line x1="784.17" y1="254.2" x2="788.69" y2="247.98" stroke="#000" stroke-width="1.7" stroke-linecap="butt"/>
<line x1="797.79" y1="248.94" x2="800.91" y2="255.96" stroke="#000" stroke-width="1.7" stroke-linecap="butt"/>
<line x1="787.29" y1="243.81" x2="782.09" y2="232.11" stroke="#000" stroke-width="1.7" stroke-linecap="butt"/>
<line x1="782.09" y1="232.11" x2="769.36" y2="230.78" stroke="#000" stroke-width="1.7" stroke-linecap="round"/>
<line x1="769.36" y1="230.78" x2="764.15" y2="219.08" stroke="#000" stroke-width="1.7" stroke-linecap="round"/>
<line x1="764.15" y1="219.08" x2="771.68" y2="208.73" stroke="#000" stroke-width="1.7" stroke-linecap="round"/>
<line x1="771.68" y1="208.73" x2="784.4" y2="210.06" stroke="#000" stroke-width="1.7" stroke-linecap="round"/>
<line x1="784.4" y1="210.06" x2="789.61" y2="221.76" stroke="#000" stroke-width="1.7" stroke-linecap="round"/>
<line x1="789.61" y1="221.76" x2="782.09" y2="232.11" stroke="#000" stroke-width="1.7" stroke-linecap="round"/>
<line x1="771.59" y1="226.98" x2="768.47" y2="219.96" stroke="#000" stroke-width="1.7" stroke-linecap="butt"/>
<line x1="773.85" y1="212.56" x2="781.48" y2="213.36" stroke="#000" stroke-width="1.7" stroke-linecap="butt"/>
<line x1="785.21" y1="221.72" x2="780.69" y2="227.94" stroke="#000" stroke-width="1.7" stroke-linecap="butt"/>
<line x1="771.19" y1="207.63" x2="766.73" y2="197.62" stroke="#00f" stroke-width="1.78" stroke-linecap="butt" stroke-dasharray="2.2,1.9"/>
<line x1="805.23" y1="256.84" x2="817.96" y2="258.18" stroke="#000" stroke-width="1.7" stroke-linecap="butt"/>
<line x1="817.96" y1="258.18" x2="825.49" y2="247.82" stroke="#000" stroke-width="1.7" stroke-linecap="round"/>
<line x1="825.49" y1="247.82" x2="838.22" y2="249.16" stroke="#000" stroke-width="1.7" stroke-linecap="round"/>
<line x1="838.22" y1="249.16" x2="843.42" y2="260.85" stroke="#000" stroke-width="1.7" stroke-linecap="round"/>
<line x1="843.42" y1="260.85" x2="835.9" y2="271.21" stroke="#000" stroke-width="1.7" stroke-linecap="round"/>
<line x1="835.9" y1="271.21" x2="823.17" y2="269.87" stroke="#000" stroke-width="1.7" stroke-linecap="round"/>
<line x1="823.17" y1="269.87" x2="817.96" y2="258.18" stroke="#000" stroke-width="1.7" stroke-linecap="round"/>
<line x1="827.66" y1="251.65" x2="835.3" y2="252.45" stroke="#000" stroke-width="1.7" stroke-linecap="butt"/>
<line x1="839.02" y1="260.82" x2="834.5" y2="267.03" stroke="#000" stroke-width="1.7" stroke-linecap="butt"/>
<line x1="825.4" y1="266.07" x2="822.28" y2="259.06" stroke="#000" stroke-width="1.7" stroke-linecap="butt"/>
<line x1="843.42" y1="260.85" x2="851.64" y2="261.72" stroke="#00f" stroke-width="1.7" stroke-linecap="butt"/>
<line x1="784.98" y1="265.86" x2="777.8" y2="276.21" stroke="#000" stroke-width="1.7" stroke-linecap="butt"/>
<line x1="777.8" y1="276.21" x2="783.18" y2="287.6" stroke="#000" stroke-width="1.7" stroke-linecap="round"/>
<line x1="783.18" y1="287.6" x2="776.01" y2="297.96" stroke="#000" stroke-width="1.7" stroke-linecap="round"/>
<line x1="776.01" y1="297.96" x2="763.45" y2="296.93" stroke="#000" stroke-width="1.7" stroke-linecap="round"/>
<line x1="763.45" y1="296.93" x2="758.07" y2="285.53" stroke="#000" stroke-width="1.7" stroke-linecap="round"/>
<line x1="758.07" y1="285.53" x2="765.25" y2="275.18" stroke="#000" stroke-width="1.7" stroke-linecap="round"/>
<line x1="765.25" y1="275.18" x2="777.8" y2="276.21" stroke="#000" stroke-width="1.7" stroke-linecap="round"/>
<line x1="778.85" y1="287.67" x2="774.54" y2="293.88" stroke="#000" stroke-width="1.7" stroke-linecap="butt"/>
<line x1="765.57" y1="293.14" x2="762.34" y2="286.31" stroke="#000" stroke-width="1.7" stroke-linecap="butt"/>
<line x1="767.47" y1="278.9" x2="775" y2="279.52" stroke="#000" stroke-width="1.7" stroke-linecap="butt"/>
<line x1="763.45" y1="296.93" x2="758.86" y2="303.55" stroke="#00f" stroke-width="1.7" stroke-linecap="butt"/>
<line x1="976.24" y1="354.85" x2="968.71" y2="365.2" stroke="#000" stroke-width="1.7" stroke-linecap="round"/>
<line x1="968.71" y1="365.2" x2="955.98" y2="363.87" stroke="#000" stroke-width="1.7" stroke-linecap="round"/>
<line x1="955.98" y1="363.87" x2="950.78" y2="352.17" stroke="#000" stroke-width="1.7" stroke-linecap="round"/>
<line x1="950.78" y1="352.17" x2="958.3" y2="341.82" stroke="#000" stroke-width="1.7" stroke-linecap="round"/>
<line x1="958.3" y1="341.82" x2="971.03" y2="343.16" stroke="#000" stroke-width="1.7" stroke-linecap="round"/>
<line x1="971.03" y1="343.16" x2="976.24" y2="354.85" stroke="#000" stroke-width="1.7" stroke-linecap="round"/>
<line x1="966.54" y1="361.37" x2="958.9" y2="360.57" stroke="#000" stroke-width="1.7" stroke-linecap="butt"/>
<line x1="955.18" y1="352.21" x2="959.7" y2="346" stroke="#000" stroke-width="1.7" stroke-linecap="butt"/>
<line x1="968.8" y1="346.95" x2="971.92" y2="353.97" stroke="#000" stroke-width="1.7" stroke-linecap="butt"/>
<line x1="958.3" y1="341.82" x2="953.09" y2="330.75" stroke="#000" stroke-width="1.7" stroke-linecap="butt"/>
<line x1="953.09" y1="330.75" x2="940.9" y2="329.72" stroke="#000" stroke-width="1.7" stroke-linecap="round"/>
<line x1="940.9" y1="329.72" x2="935.7" y2="318.65" stroke="#000" stroke-width="1.7" stroke-linecap="round"/>
<line x1="935.7" y1="318.65" x2="942.68" y2="308.61" stroke="#000" stroke-width="1.7" stroke-linecap="round"/>
<line x1="942.68" y1="308.61" x2="954.87" y2="309.63" stroke="#000" stroke-width="1.7" stroke-linecap="round"/>
<line x1="954.87" y1="309.63" x2="960.08" y2="320.7" stroke="#000" stroke-width="1.7" stroke-linecap="round"/>
<line x1="960.08" y1="320.7" x2="953.09" y2="330.75" stroke="#000" stroke-width="1.7" stroke-linecap="round"/>
<line x1="942.96" y1="326.05" x2="939.84" y2="319.41" stroke="#000" stroke-width="1.7" stroke-linecap="butt"/>
<line x1="944.83" y1="312.23" x2="952.14" y2="312.84" stroke="#000" stroke-width="1.7" stroke-linecap="butt"/>
<line x1="955.87" y1="320.76" x2="951.68" y2="326.78" stroke="#000" stroke-width="1.7" stroke-linecap="butt"/>
<line x1="942.68" y1="308.61" x2="939.4" y2="301.64" stroke="#00f" stroke-width="1.7" stroke-linecap="butt"/>
<line x1="976.24" y1="354.85" x2="988.97" y2="356.19" stroke="#000" stroke-width="1.7" stroke-linecap="butt"/>
<line x1="988.97" y1="356.19" x2="996.49" y2="345.83" stroke="#000" stroke-width="1.7" stroke-linecap="round"/>
<line x1="996.49" y1="345.83" x2="1009.22" y2="347.17" stroke="#000" stroke-width="1.7" stroke-linecap="round"/>
<line x1="1009.22" y1="347.17" x2="1014.43" y2="358.86" stroke="#000" stroke-width="1.7" stroke-linecap="round"/>
<line x1="1014.43" y1="358.86" x2="1006.9" y2="369.22" stroke="#000" stroke-width="1.7" stroke-linecap="round"/>
<line x1="1006.9" y1="369.22" x2="994.17" y2="367.88" stroke="#000" stroke-width="1.7" stroke-linecap="round"/>
<line x1="994.17" y1="367.88" x2="988.97" y2="356.19" stroke="#000" stroke-width="1.7" stroke-linecap="round"/>
<line x1="998.66" y1="349.66" x2="1006.3" y2="350.47" stroke="#000" stroke-width="1.7" stroke-linecap="butt"/>
<line x1="1010.02" y1="358.83" x2="1005.51" y2="365.04" stroke="#000" stroke-width="1.7" stroke-linecap="butt"/>
<line x1="996.41" y1="364.08" x2="993.28" y2="357.07" stroke="#000" stroke-width="1.7" stroke-linecap="butt"/>
<line x1="1015.62" y1="358.99" x2="1026.52" y2="360.13" stroke="#00f" stroke-width="1.78" stroke-linecap="butt" stroke-dasharray="2.2,1.9"/>
<line x1="955.98" y1="363.87" x2="948.76" y2="374.52" stroke="#000" stroke-width="1.7" stroke-linecap="butt"/>
<line x1="948.76" y1="374.52" x2="954.37" y2="386.11" stroke="#000" stroke-width="1.7" stroke-linecap="round"/>
<line x1="954.37" y1="386.11" x2="947.15" y2="396.76" stroke="#000" stroke-width="1.7" stroke-linecap="round"/>
<line x1="947.15" y1="396.76" x2="934.31" y2="395.84" stroke="#000" stroke-width="1.7" stroke-linecap="round"/>
<line x1="934.31" y1="395.84" x2="928.69" y2="384.25" stroke="#000" stroke-width="1.7" stroke-linecap="round"/>
<line x1="928.69" y1="384.25" x2="935.92" y2="373.59" stroke="#000" stroke-width="1.7" stroke-linecap="round"/>
<line x1="935.92" y1="373.59" x2="948.76" y2="374.52" stroke="#000" stroke-width="1.7" stroke-linecap="round"/>
<line x1="949.95" y1="386.22" x2="945.61" y2="392.61" stroke="#000" stroke-width="1.7" stroke-linecap="butt"/>
<line x1="936.43" y1="391.95" x2="933.06" y2="385" stroke="#000" stroke-width="1.7" stroke-linecap="butt"/>
<line x1="938.23" y1="377.38" x2="945.93" y2="377.93" stroke="#000" stroke-width="1.7" stroke-linecap="butt"/>
<line x1="934.31" y1="395.84" x2="929.63" y2="402.74" stroke="#00f" stroke-width="1.7" stroke-linecap="butt"/>
<line x1="804.99" y1="453.69" x2="797.46" y2="464.04" stroke="#000" stroke-width="1.7" stroke-linecap="round"/>
<line x1="797.46" y1="464.04" x2="784.73" y2="462.71" stroke="#000" stroke-width="1.7" stroke-linecap="round"/>
<line x1="784.73" y1="462.71" x2="779.53" y2="451.01" stroke="#000" stroke-width="1.7" stroke-linecap="round"/>
<line x1="779.53" y1="451.01" x2="787.05" y2="440.66" stroke="#000" stroke-width="1.7" stroke-linecap="round"/>
<line x1="787.05" y1="440.66" x2="799.78" y2="442" stroke="#000" stroke-width="1.7" stroke-linecap="round"/>
<line x1="799.78" y1="442" x2="804.99" y2="453.69" stroke="#000" stroke-width="1.7" stroke-linecap="round"/>
<line x1="795.29" y1="460.21" x2="787.66" y2="459.41" stroke="#000" stroke-width="1.7" stroke-linecap="butt"/>
<line x1="783.93" y1="451.05" x2="788.45" y2="444.84" stroke="#000" stroke-width="1.7" stroke-linecap="butt"/>
<line x1="797.55" y1="445.79" x2="800.67" y2="452.81" stroke="#000" stroke-width="1.7" stroke-linecap="butt"/>
<line x1="787.05" y1="440.66" x2="781.87" y2="429.34" stroke="#000" stroke-width="1.7" stroke-linecap="butt"/>
<line x1="781.87" y1="429.34" x2="769.48" y2="428.17" stroke="#000" stroke-width="1.7" stroke-linecap="round"/>
<line x1="769.48" y1="428.17" x2="764.29" y2="416.85" stroke="#000" stroke-width="1.7" stroke-linecap="round"/>
<line x1="764.29" y1="416.85" x2="771.51" y2="406.7" stroke="#000" stroke-width="1.7" stroke-linecap="round"/>
<line x1="771.51" y1="406.7" x2="783.9" y2="407.87" stroke="#000" stroke-width="1.7" stroke-linecap="round"/>
<line x1="783.9" y1="407.87" x2="789.08" y2="419.19" stroke="#000" stroke-width="1.7" stroke-linecap="round"/>
<line x1="789.08" y1="419.19" x2="781.87" y2="429.34" stroke="#000" stroke-width="1.7" stroke-linecap="round"/>
<line x1="771.61" y1="424.45" x2="768.5" y2="417.66" stroke="#000" stroke-width="1.7" stroke-linecap="butt"/>
<line x1="773.66" y1="410.4" x2="781.09" y2="411.11" stroke="#000" stroke-width="1.7" stroke-linecap="butt"/>
<line x1="784.8" y1="419.2" x2="780.47" y2="425.29" stroke="#000" stroke-width="1.7" stroke-linecap="butt"/>
<line x1="771.51" y1="406.7" x2="768.21" y2="399.5" stroke="#00f" stroke-width="1.7" stroke-linecap="butt"/>
<line x1="804.99" y1="453.69" x2="817.69" y2="455.08" stroke="#000" stroke-width="1.7" stroke-linecap="butt"/>
<line x1="817.69" y1="455.08" x2="825.25" y2="444.77" stroke="#000" stroke-width="1.7" stroke-linecap="round"/>
<line x1="825.25" y1="444.77" x2="837.96" y2="446.16" stroke="#000" stroke-width="1.7" stroke-linecap="round"/>
<line x1="837.96" y1="446.16" x2="843.11" y2="457.85" stroke="#000" stroke-width="1.7" stroke-linecap="round"/>
<line x1="843.11" y1="457.85" x2="835.55" y2="468.16" stroke="#000" stroke-width="1.7" stroke-linecap="round"/>
<line x1="835.55" y1="468.16" x2="822.85" y2="466.78" stroke="#000" stroke-width="1.7" stroke-linecap="round"/>
<line x1="822.85" y1="466.78" x2="817.69" y2="455.08" stroke="#000" stroke-width="1.7" stroke-linecap="round"/>
<line x1="827.4" y1="448.6" x2="835.03" y2="449.44" stroke="#000" stroke-width="1.7" stroke-linecap="butt"/>
<line x1="838.71" y1="457.8" x2="834.18" y2="463.99" stroke="#000" stroke-width="1.7" stroke-linecap="butt"/>
<line x1="825.09" y1="462.99" x2="822" y2="455.97" stroke="#000" stroke-width="1.7" stroke-linecap="butt"/>
<line x1="843.11" y1="457.85" x2="851.3" y2="458.75" stroke="#00f" stroke-width="1.7" stroke-linecap="butt"/>
<line x1="784.73" y1="462.71" x2="777.21" y2="473.06" stroke="#000" stroke-width="1.7" stroke-linecap="butt"/>
<line x1="777.21" y1="473.06" x2="782.42" y2="484.76" stroke="#000" stroke-width="1.7" stroke-linecap="round"/>
<line x1="782.42" y1="484.76" x2="774.89" y2="495.11" stroke="#000" stroke-width="1.7" stroke-linecap="round"/>
<line x1="774.89" y1="495.11" x2="762.16" y2="493.77" stroke="#000" stroke-width="1.7" stroke-linecap="round"/>
<line x1="762.16" y1="493.77" x2="756.96" y2="482.08" stroke="#000" stroke-width="1.7" stroke-linecap="round"/>
<line x1="756.96" y1="482.08" x2="764.48" y2="471.72" stroke="#000" stroke-width="1.7" stroke-linecap="round"/>
<line x1="764.48" y1="471.72" x2="777.21" y2="473.06" stroke="#000" stroke-width="1.7" stroke-linecap="round"/>
<line x1="778.01" y1="484.72" x2="773.5" y2="490.93" stroke="#000" stroke-width="1.7" stroke-linecap="butt"/>
<line x1="764.4" y1="489.98" x2="761.27" y2="482.96" stroke="#000" stroke-width="1.7" stroke-linecap="butt"/>
<line x1="766.65" y1="475.56" x2="774.29" y2="476.36" stroke="#000" stroke-width="1.7" stroke-linecap="butt"/>
<line x1="761.46" y1="494.74" x2="755.02" y2="503.61" stroke="#00f" stroke-width="1.78" stroke-linecap="butt" stroke-dasharray="2.2,1.9"/>
<text x="783.5" y="499.34" fill="#000" font-size="19" text-anchor="start" font-weight="bold" font-family="Liberation Sans"><tspan fill="#f00">BTT</tspan>-<tspan fill="#00f">TAB</tspan> COF</text>
<text x="773" y="562.99" fill="#000" font-size="20.8" text-anchor="start" font-weight="bold" font-family="Liberation Sans"><tspan fill="#f00">BTT</tspan>-<tspan fill="#00f">DAB</tspan> COF</text>
<text x="770" y="659.03" fill="#000" font-size="22.3" text-anchor="start" font-weight="bold" font-family="Liberation Sans"><tspan fill="#f00">BTT</tspan>-<tspan fill="#00f">DADP</tspan> COF</text>
</svg></body></html>
